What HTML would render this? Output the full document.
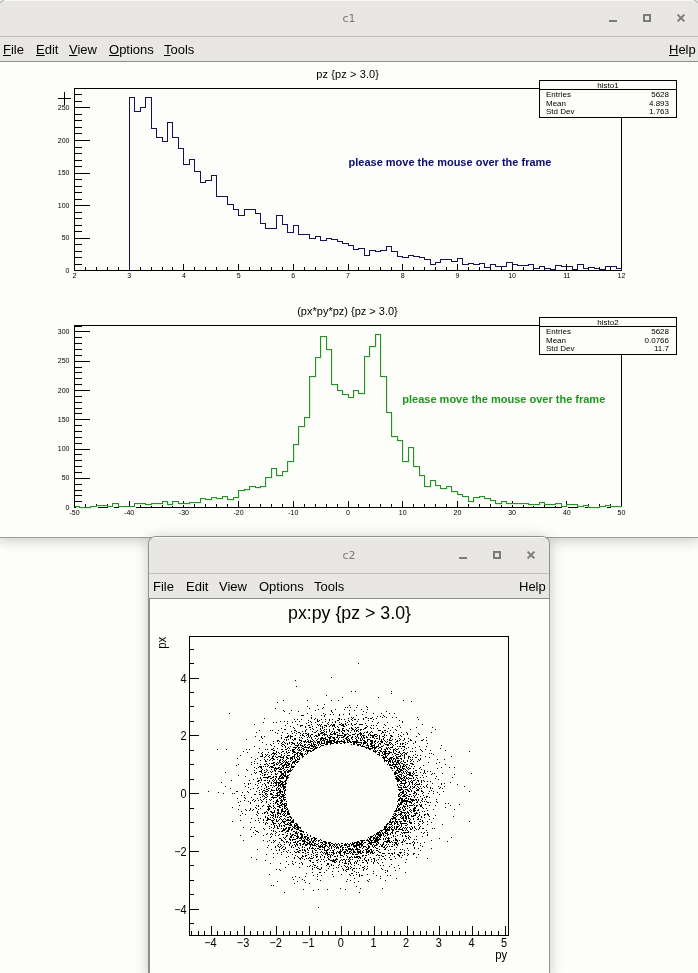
<!DOCTYPE html>
<html><head><meta charset="utf-8"><title>c1 c2</title>
<style>
html,body{margin:0;padding:0;}
body{width:698px;height:973px;overflow:hidden;position:relative;background:#fdfdf9;font-family:"Liberation Sans",sans-serif;}
.win{position:absolute;background:#fdfdf9;border:1px solid #8f8f8d;border-bottom:none;box-shadow:0 2px 14px rgba(0,0,0,0.22);overflow:hidden;}
.tb{position:absolute;left:0;right:0;top:0;height:36px;background:#e8e7e4;border-top:1px solid #f7f7f5;box-sizing:border-box;}
.tbl{position:absolute;left:0;right:0;top:36px;height:1px;background:#c0c0bd;}
.mb{position:absolute;left:0;right:0;top:37px;height:24px;background:#e8e7e4;}
.mbl{position:absolute;left:0;right:0;top:61px;height:1px;background:#8d8d8b;}
.cv{position:absolute;left:0;right:0;top:62px;bottom:0;border-left:1px solid #8a8a88;box-shadow:inset 1px 1px 0 #fff, inset -1px 0 0 #fff;}
.ttl{position:absolute;top:0;height:36px;line-height:37px;left:0;right:0;text-align:center;font-family:"DejaVu Sans",sans-serif;font-size:11px;color:#7a7a78;}
.mi{position:absolute;top:5px;font-size:13px;color:#000;line-height:15px;white-space:pre;}
.u{text-decoration:underline;}
.bmin{position:absolute;top:20px;width:8px;height:2px;background:#7b7b79;}
.bmax{position:absolute;top:14px;width:4px;height:4px;border:2px solid #7b7b79;}
.bcls{position:absolute;top:13px;}
#c1b{position:absolute;left:0;top:536px;width:698px;height:1px;background:#fff;}
#c1bb{position:absolute;left:0;top:537px;width:698px;height:1px;background:#9a9a98;}
#plots{position:absolute;left:0;top:0;will-change:transform;}
.win{will-change:transform;}
</style></head><body>
<div class="win" style="left:-2px;top:-1px;width:700px;height:538px;border-radius:9px 9px 0 0;">
  <div class="tb"></div>
  <div class="ttl">c1</div>
  <div class="tbl"></div>
  <div class="mb"><span class="mi" style="left:4px"><span class="u">F</span>ile</span><span class="mi" style="left:37px"><span class="u">E</span>dit</span><span class="mi" style="left:70px"><span class="u">V</span>iew</span><span class="mi" style="left:110px"><span class="u">O</span>ptions</span><span class="mi" style="left:165px"><span class="u">T</span>ools</span><span class="mi" style="left:670px"><span class="u">H</span>elp</span></div>
  <div class="mbl"></div>
  <div class="cv" style="border-left:none;box-shadow:none"></div>
  <div class="bmin" style="left:610px"></div>
  <div class="bmax" style="left:644px"></div>
  <svg class="bcls" style="left:677px" width="10" height="10" viewBox="0 0 10 10"><path d="M1.6 1.6L8.4 8.4M8.4 1.6L1.6 8.4" stroke="#7b7b79" stroke-width="2"/></svg>
</div>
<div id="c1b"></div><div id="c1bb"></div>
<div class="win" style="left:148px;top:536px;width:400px;height:439px;border-radius:8px 8px 0 0;">
  <div class="tb"></div>
  <div class="ttl">c2</div>
  <div class="tbl"></div>
  <div class="mb"><span class="mi" style="left:4px">File</span><span class="mi" style="left:37px">Edit</span><span class="mi" style="left:70px">View</span><span class="mi" style="left:110px">Options</span><span class="mi" style="left:165px">Tools</span><span class="mi" style="left:370px">Help</span></div>
  <div class="mbl"></div>
  <div class="cv" style=""></div>
  <div class="bmin" style="left:310px"></div>
  <div class="bmax" style="left:344px"></div>
  <svg class="bcls" style="left:377px" width="10" height="10" viewBox="0 0 10 10"><path d="M1.6 1.6L8.4 8.4M8.4 1.6L1.6 8.4" stroke="#7b7b79" stroke-width="2"/></svg>
</div>
<svg id="plots" width="698" height="973" viewBox="0 0 698 973" shape-rendering="crispEdges">
<rect x="74.5" y="88.5" width="547" height="182" fill="none" stroke="#000" stroke-width="1"/>
<path d="M74 270.5h16M74 264.5h8M74 257.5h8M74 251.5h8M74 244.5h8M74 238.5h16M74 231.5h8M74 225.5h8M74 218.5h8M74 212.5h8M74 205.5h16M74 199.5h8M74 192.5h8M74 186.5h8M74 179.5h8M74 173.5h16M74 166.5h8M74 160.5h8M74 153.5h8M74 147.5h8M74 140.5h16M74 133.5h8M74 127.5h8M74 120.5h8M74 114.5h8M74 107.5h16M74 101.5h8M74 94.5h8M74.5 270v-6M85.5 270v-3M96.5 270v-3M107.5 270v-3M118.5 270v-3M129.5 270v-6M140.5 270v-3M151.5 270v-3M162.5 270v-3M172.5 270v-3M183.5 270v-6M194.5 270v-3M205.5 270v-3M216.5 270v-3M227.5 270v-3M238.5 270v-6M249.5 270v-3M260.5 270v-3M271.5 270v-3M282.5 270v-3M293.5 270v-6M304.5 270v-3M315.5 270v-3M326.5 270v-3M337.5 270v-3M348.5 270v-6M358.5 270v-3M369.5 270v-3M380.5 270v-3M391.5 270v-3M402.5 270v-6M413.5 270v-3M424.5 270v-3M435.5 270v-3M446.5 270v-3M457.5 270v-6M468.5 270v-3M479.5 270v-3M490.5 270v-3M501.5 270v-3M512.5 270v-6M523.5 270v-3M533.5 270v-3M544.5 270v-3M555.5 270v-3M566.5 270v-6M577.5 270v-3M588.5 270v-3M599.5 270v-3M610.5 270v-3M621.5 270v-6" stroke="#000" stroke-width="1" fill="none"/>
<path d="M129.5 269.5V97.5H134.5V111.5H140.5V107.5H145.5V97.5H151.5V128.5H156.5V137.5H162.5V141.5H167.5V122.5H172.5V137.5H178.5V148.5H183.5V164.5H189.5V159.5H194.5V171.5H200.5V182.5H205.5V180.5H211.5V175.5H216.5V196.5H222.5V196.5H227.5V204.5H233.5V209.5H238.5V215.5H244.5V209.5H249.5V209.5H255.5V213.5H260.5V223.5H265.5V228.5H271.5V228.5H276.5V215.5H282.5V224.5H287.5V232.5H293.5V225.5H298.5V234.5H304.5V234.5H309.5V238.5H315.5V236.5H320.5V240.5H326.5V238.5H331.5V239.5H337.5V241.5H342.5V243.5H348.5V245.5H353.5V249.5H358.5V248.5H364.5V255.5H369.5V250.5H375.5V251.5H380.5V250.5H386.5V246.5H391.5V251.5H397.5V256.5H402.5V257.5H408.5V255.5H413.5V256.5H419.5V257.5H424.5V259.5H430.5V264.5H435.5V262.5H440.5V259.5H446.5V259.5H451.5V261.5H457.5V258.5H462.5V264.5H468.5V263.5H473.5V264.5H479.5V263.5H484.5V267.5H490.5V264.5H495.5V266.5H501.5V266.5H506.5V262.5H512.5V264.5H517.5V265.5H523.5V265.5H528.5V264.5H533.5V268.5H539.5V266.5H544.5V268.5H550.5V269.5H555.5V265.5H561.5V266.5H566.5V266.5H572.5V269.5H577.5V264.5H583.5V268.5H588.5V267.5H594.5V268.5H599.5V269.5H605.5V266.5H610.5V266.5H616.5V268.5H621.5V269.5" fill="none" stroke="#141257" stroke-width="1"/>
<g font-family="Liberation Sans" font-size="7" fill="#000"><text x="69.5" y="272.8" text-anchor="end">0</text><text x="69.5" y="240.2" text-anchor="end">50</text><text x="69.5" y="207.7" text-anchor="end">100</text><text x="69.5" y="175.1" text-anchor="end">150</text><text x="69.5" y="142.5" text-anchor="end">200</text><text x="69.5" y="109.9" text-anchor="end">250</text><text x="74.5" y="277.7" text-anchor="middle">2</text><text x="129.2" y="277.7" text-anchor="middle">3</text><text x="183.9" y="277.7" text-anchor="middle">4</text><text x="238.6" y="277.7" text-anchor="middle">5</text><text x="293.3" y="277.7" text-anchor="middle">6</text><text x="348.0" y="277.7" text-anchor="middle">7</text><text x="402.7" y="277.7" text-anchor="middle">8</text><text x="457.4" y="277.7" text-anchor="middle">9</text><text x="512.1" y="277.7" text-anchor="middle">10</text><text x="566.8" y="277.7" text-anchor="middle">11</text><text x="621.5" y="277.7" text-anchor="middle">12</text></g>
<rect x="74.5" y="325.5" width="547" height="182" fill="none" stroke="#000" stroke-width="1"/>
<path d="M74 507.5h16M74 501.5h8M74 495.5h8M74 490.5h8M74 484.5h8M74 478.5h16M74 472.5h8M74 466.5h8M74 460.5h8M74 454.5h8M74 449.5h16M74 443.5h8M74 437.5h8M74 431.5h8M74 425.5h8M74 419.5h16M74 413.5h8M74 408.5h8M74 402.5h8M74 396.5h8M74 390.5h16M74 384.5h8M74 378.5h8M74 372.5h8M74 367.5h8M74 361.5h16M74 355.5h8M74 349.5h8M74 343.5h8M74 337.5h8M74 331.5h16M74 326.5h8M74.5 507v-6M85.5 507v-3M96.5 507v-3M107.5 507v-3M118.5 507v-3M129.5 507v-6M140.5 507v-3M151.5 507v-3M162.5 507v-3M172.5 507v-3M183.5 507v-6M194.5 507v-3M205.5 507v-3M216.5 507v-3M227.5 507v-3M238.5 507v-6M249.5 507v-3M260.5 507v-3M271.5 507v-3M282.5 507v-3M293.5 507v-6M304.5 507v-3M315.5 507v-3M326.5 507v-3M337.5 507v-3M348.5 507v-6M358.5 507v-3M369.5 507v-3M380.5 507v-3M391.5 507v-3M402.5 507v-6M413.5 507v-3M424.5 507v-3M435.5 507v-3M446.5 507v-3M457.5 507v-6M468.5 507v-3M479.5 507v-3M490.5 507v-3M501.5 507v-3M512.5 507v-6M523.5 507v-3M533.5 507v-3M544.5 507v-3M555.5 507v-3M566.5 507v-6M577.5 507v-3M588.5 507v-3M599.5 507v-3M610.5 507v-3M621.5 507v-6" stroke="#000" stroke-width="1" fill="none"/>
<path transform="translate(1 1)" d="M74.5 506.5V506.5H79.5V507.5H85.5V507.5H90.5V506.5H96.5V505.5H101.5V505.5H107.5V506.5H112.5V503.5H118.5V506.5H123.5V506.5H129.5V506.5H134.5V503.5H140.5V503.5H145.5V504.5H151.5V503.5H156.5V503.5H162.5V501.5H167.5V504.5H172.5V501.5H178.5V503.5H183.5V503.5H189.5V502.5H194.5V502.5H200.5V498.5H205.5V499.5H211.5V497.5H216.5V498.5H222.5V496.5H227.5V499.5H233.5V497.5H238.5V490.5H244.5V489.5H249.5V486.5H255.5V487.5H260.5V486.5H265.5V477.5H271.5V468.5H276.5V475.5H282.5V471.5H287.5V461.5H293.5V444.5H298.5V426.5H304.5V417.5H309.5V376.5H315.5V357.5H320.5V336.5H326.5V349.5H331.5V384.5H337.5V390.5H342.5V394.5H348.5V397.5H353.5V390.5H358.5V393.5H364.5V356.5H369.5V346.5H375.5V334.5H380.5V376.5H386.5V412.5H391.5V436.5H397.5V440.5H402.5V461.5H408.5V447.5H413.5V466.5H419.5V475.5H424.5V486.5H430.5V480.5H435.5V485.5H440.5V488.5H446.5V486.5H451.5V491.5H457.5V494.5H462.5V496.5H468.5V501.5H473.5V497.5H479.5V496.5H484.5V498.5H490.5V500.5H495.5V503.5H501.5V501.5H506.5V503.5H512.5V503.5H517.5V503.5H523.5V503.5H528.5V504.5H533.5V504.5H539.5V502.5H544.5V504.5H550.5V504.5H555.5V503.5H561.5V506.5H566.5V504.5H572.5V504.5H577.5V506.5H583.5V505.5H588.5V507.5H594.5V507.5H599.5V506.5H605.5V505.5H610.5V506.5H616.5V506.5H621.5V506.5" fill="none" stroke="#d6f7d6" stroke-width="1"/>
<path d="M74.5 506.5V506.5H79.5V507.5H85.5V507.5H90.5V506.5H96.5V505.5H101.5V505.5H107.5V506.5H112.5V503.5H118.5V506.5H123.5V506.5H129.5V506.5H134.5V503.5H140.5V503.5H145.5V504.5H151.5V503.5H156.5V503.5H162.5V501.5H167.5V504.5H172.5V501.5H178.5V503.5H183.5V503.5H189.5V502.5H194.5V502.5H200.5V498.5H205.5V499.5H211.5V497.5H216.5V498.5H222.5V496.5H227.5V499.5H233.5V497.5H238.5V490.5H244.5V489.5H249.5V486.5H255.5V487.5H260.5V486.5H265.5V477.5H271.5V468.5H276.5V475.5H282.5V471.5H287.5V461.5H293.5V444.5H298.5V426.5H304.5V417.5H309.5V376.5H315.5V357.5H320.5V336.5H326.5V349.5H331.5V384.5H337.5V390.5H342.5V394.5H348.5V397.5H353.5V390.5H358.5V393.5H364.5V356.5H369.5V346.5H375.5V334.5H380.5V376.5H386.5V412.5H391.5V436.5H397.5V440.5H402.5V461.5H408.5V447.5H413.5V466.5H419.5V475.5H424.5V486.5H430.5V480.5H435.5V485.5H440.5V488.5H446.5V486.5H451.5V491.5H457.5V494.5H462.5V496.5H468.5V501.5H473.5V497.5H479.5V496.5H484.5V498.5H490.5V500.5H495.5V503.5H501.5V501.5H506.5V503.5H512.5V503.5H517.5V503.5H523.5V503.5H528.5V504.5H533.5V504.5H539.5V502.5H544.5V504.5H550.5V504.5H555.5V503.5H561.5V506.5H566.5V504.5H572.5V504.5H577.5V506.5H583.5V505.5H588.5V507.5H594.5V507.5H599.5V506.5H605.5V505.5H610.5V506.5H616.5V506.5H621.5V506.5" fill="none" stroke="#2a8c2a" stroke-width="1"/>
<g font-family="Liberation Sans" font-size="7" fill="#000"><text x="69.5" y="509.7" text-anchor="end">0</text><text x="69.5" y="480.4" text-anchor="end">50</text><text x="69.5" y="451.1" text-anchor="end">100</text><text x="69.5" y="421.8" text-anchor="end">150</text><text x="69.5" y="392.6" text-anchor="end">200</text><text x="69.5" y="363.3" text-anchor="end">250</text><text x="69.5" y="334.0" text-anchor="end">300</text><text x="74.5" y="514.7" text-anchor="middle">-50</text><text x="129.2" y="514.7" text-anchor="middle">-40</text><text x="183.9" y="514.7" text-anchor="middle">-30</text><text x="238.6" y="514.7" text-anchor="middle">-20</text><text x="293.3" y="514.7" text-anchor="middle">-10</text><text x="348.0" y="514.7" text-anchor="middle">0</text><text x="402.7" y="514.7" text-anchor="middle">10</text><text x="457.4" y="514.7" text-anchor="middle">20</text><text x="512.1" y="514.7" text-anchor="middle">30</text><text x="566.8" y="514.7" text-anchor="middle">40</text><text x="621.5" y="514.7" text-anchor="middle">50</text></g>
<text x="347.7" y="78" text-anchor="middle" font-family="Liberation Sans" font-size="11" letter-spacing="0.1" fill="#000">pz {pz &gt; 3.0}</text>
<text x="347.5" y="315.3" text-anchor="middle" font-family="Liberation Sans" font-size="11" fill="#000">(px*py*pz) {pz &gt; 3.0}</text>
<text x="348.5" y="166" font-family="Liberation Sans" font-weight="bold" font-size="11" fill="#0c0c70">please move the mouse over the frame</text>
<text x="402.3" y="402.8" font-family="Liberation Sans" font-weight="bold" font-size="11" fill="#1f981f">please move the mouse over the frame</text>
<rect x="539.5" y="80.5" width="137" height="37" fill="#fdfdf9" stroke="#000" stroke-width="1"/>
<path d="M540 89.5H676" stroke="#000" stroke-width="1"/>
<g font-family="Liberation Sans" font-size="8" fill="#000"><text x="608" y="87.8" text-anchor="middle">histo1</text><text x="546" y="96.9">Entries</text><text x="669" y="96.9" text-anchor="end">5628</text><text x="546" y="105.7">Mean</text><text x="669" y="105.7" text-anchor="end">4.893</text><text x="546" y="114.4">Std Dev</text><text x="669" y="114.4" text-anchor="end">1.763</text></g>
<rect x="539.5" y="317.5" width="137" height="37" fill="#fdfdf9" stroke="#000" stroke-width="1"/>
<path d="M540 326.5H676" stroke="#000" stroke-width="1"/>
<g font-family="Liberation Sans" font-size="8" fill="#000"><text x="608" y="324.8" text-anchor="middle">histo2</text><text x="546" y="333.9">Entries</text><text x="669" y="333.9" text-anchor="end">5628</text><text x="546" y="342.6">Mean</text><text x="669" y="342.6" text-anchor="end">0.0766</text><text x="546" y="351.4">Std Dev</text><text x="669" y="351.4" text-anchor="end">11.7</text></g>
<path d="M58 98.5h13M64.5 92v13" stroke="#000" stroke-width="1"/>
<text x="288" y="618.7" textLength="123" lengthAdjust="spacingAndGlyphs" font-family="Liberation Sans" font-size="19" fill="#000">px:py {pz &gt; 3.0}</text>
<path d="M383 834.5h1M278 783.5h1M373 725.5h1M288 767.5h1M427 743.5h1M313 840.5h1M368 845.5h1M276 800.5h1M281 801.5h1M403 740.5h1M277 826.5h1M319 872.5h1M297 834.5h1M399 787.5h1M362 856.5h1M383 757.5h1M274 754.5h1M412 827.5h1M318 859.5h1M326 734.5h1M399 805.5h1M422 775.5h1M350 859.5h1M308 722.5h1M280 793.5h1M291 757.5h1M336 853.5h1M364 735.5h1M299 840.5h1M294 883.5h1M329 842.5h1M288 772.5h1M394 844.5h1M406 775.5h1M317 739.5h1M314 749.5h1M315 738.5h1M288 814.5h1M414 793.5h1M292 828.5h1M331 743.5h1M351 730.5h1M374 742.5h1M341 859.5h1M420 758.5h1M372 845.5h1M309 750.5h1M307 752.5h1M401 758.5h1M303 749.5h1M288 761.5h1M418 790.5h1M308 748.5h1M302 731.5h1M293 847.5h1M356 857.5h1M387 755.5h1M411 701.5h1M280 778.5h1M284 803.5h1M349 857.5h1M285 773.5h1M298 832.5h1M284 784.5h1M404 806.5h1M300 725.5h1M283 700.5h1M393 830.5h1M398 800.5h1M387 758.5h1M288 777.5h1M399 804.5h1M307 745.5h1M262 756.5h1M396 766.5h1M303 832.5h1M295 823.5h1M348 742.5h1M386 847.5h1M269 805.5h1M248 784.5h1M310 858.5h1M367 863.5h1M388 761.5h1M326 743.5h1M282 781.5h1M343 869.5h1M339 714.5h1M397 823.5h1M305 740.5h1M403 840.5h1M297 743.5h1M278 782.5h1M258 805.5h1M277 768.5h1M357 736.5h1M402 796.5h1M366 849.5h1M355 729.5h1M396 779.5h1M442 824.5h1M363 846.5h1M272 815.5h1M418 733.5h1M313 855.5h1M414 827.5h1M339 852.5h1M398 865.5h1M328 868.5h1M301 834.5h1M403 796.5h1M344 736.5h1M316 840.5h1M393 829.5h1M297 851.5h1M383 856.5h1M251 857.5h1M347 866.5h1M367 868.5h1M254 772.5h1M334 847.5h1M382 832.5h1M288 810.5h1M266 763.5h1M391 818.5h1M454 767.5h1M339 718.5h1M338 730.5h1M296 843.5h1M400 827.5h1M348 720.5h1M268 845.5h1M401 789.5h1M384 759.5h1M444 783.5h1M402 842.5h1M373 837.5h1M400 807.5h1M349 860.5h1M287 777.5h1M316 854.5h1M327 850.5h1M411 791.5h1M437 768.5h1M368 718.5h1M320 738.5h1M410 798.5h1M393 836.5h1M338 720.5h1M320 744.5h1M438 786.5h1M292 822.5h1M253 788.5h1M398 763.5h1M416 757.5h1M441 784.5h1M323 740.5h1M260 818.5h1M396 776.5h1M413 777.5h1M331 860.5h1M292 742.5h1M399 840.5h1M349 728.5h1M249 780.5h1M282 786.5h1M274 825.5h1M436 799.5h1M399 790.5h1M296 760.5h1M403 830.5h1M391 841.5h1M405 783.5h1M264 772.5h1M386 842.5h1M410 809.5h1M408 758.5h1M281 810.5h1M256 831.5h1M310 841.5h1M373 863.5h1M396 758.5h1M363 737.5h1M345 860.5h1M398 752.5h1M401 769.5h1M310 846.5h1M306 733.5h1M400 735.5h1M275 767.5h1M374 861.5h1M326 842.5h1M282 751.5h1M390 855.5h1M306 742.5h1M352 854.5h1M405 820.5h1M274 811.5h1M319 724.5h1M291 766.5h1M282 774.5h1M341 741.5h1M412 782.5h1M392 833.5h1M284 804.5h1M305 836.5h1M346 845.5h1M375 838.5h1M324 844.5h1M306 832.5h1M406 789.5h1M281 816.5h1M266 834.5h1M290 825.5h1M377 742.5h1M296 686.5h1M267 812.5h1M403 818.5h1M308 747.5h1M270 759.5h1M397 781.5h1M405 823.5h1M282 792.5h1M343 859.5h1M280 816.5h1M379 831.5h1M262 813.5h1M260 756.5h1M395 748.5h1M284 822.5h1M312 851.5h1M413 764.5h1M338 843.5h1M289 823.5h1M396 808.5h1M257 781.5h1M402 815.5h1M355 846.5h1M306 855.5h1M376 837.5h1M327 852.5h1M342 845.5h1M316 747.5h1M405 742.5h1M267 813.5h1M294 762.5h1M398 794.5h1M361 844.5h1M400 797.5h1M268 765.5h1M286 740.5h1M284 829.5h1M407 801.5h1M375 751.5h1M407 805.5h1M417 810.5h1M338 735.5h1M284 797.5h1M404 776.5h1M389 830.5h1M299 739.5h1M279 762.5h1M279 785.5h1M379 836.5h1M365 846.5h1M421 781.5h1M412 788.5h1M321 867.5h1M332 725.5h1M394 753.5h1M280 759.5h1M255 834.5h1M324 716.5h1M402 829.5h1M344 742.5h1M404 795.5h1M345 721.5h1M260 782.5h1M358 856.5h1M312 750.5h1M370 749.5h1M406 803.5h1M350 732.5h1M416 802.5h1M337 851.5h1M291 847.5h1M377 834.5h1M283 765.5h1M399 771.5h1M278 813.5h1M332 860.5h1M296 827.5h1M258 783.5h1M405 789.5h1M404 749.5h1M403 764.5h1M415 795.5h1M390 742.5h1M345 742.5h1M360 738.5h1M321 844.5h1M311 738.5h1M409 822.5h1M422 798.5h1M379 855.5h1M294 766.5h1M290 822.5h1M400 829.5h1M319 742.5h1M417 775.5h1M305 882.5h1M426 796.5h1M362 862.5h1M277 759.5h1M318 733.5h1M271 778.5h1M331 848.5h1M317 866.5h1M318 848.5h1M383 739.5h1M293 827.5h1M422 823.5h1M386 747.5h1M287 765.5h1M404 752.5h1M318 734.5h1M402 841.5h1M352 843.5h1M398 766.5h1M289 825.5h1M380 876.5h1M313 744.5h1M385 838.5h1M301 751.5h1M409 791.5h1M300 834.5h1M269 808.5h1M285 743.5h1M288 827.5h1M315 838.5h1M273 820.5h1M452 777.5h1M398 812.5h1M271 807.5h1M292 834.5h1M349 740.5h1M308 740.5h1M333 854.5h1M274 764.5h1M328 843.5h1M386 751.5h1M293 766.5h1M299 737.5h1M282 791.5h1M396 828.5h1M402 791.5h1M379 750.5h1M416 805.5h1M370 734.5h1M350 741.5h1M259 730.5h1M301 747.5h1M405 815.5h1M400 811.5h1M327 855.5h1M248 787.5h1M341 851.5h1M276 764.5h1M362 746.5h1M396 810.5h1M401 823.5h1M283 841.5h1M285 813.5h1M266 820.5h1M281 755.5h1M275 785.5h1M293 761.5h1M270 776.5h1M318 846.5h1M267 754.5h1M400 781.5h1M430 750.5h1M400 798.5h1M324 861.5h1M416 794.5h1M282 746.5h1M375 845.5h1M396 843.5h1M403 790.5h1M336 743.5h1M307 747.5h1M396 826.5h1M363 718.5h1M283 762.5h1M266 822.5h1M397 779.5h1M287 748.5h1M296 823.5h1M323 732.5h1M370 837.5h1M375 740.5h1M312 850.5h1M378 835.5h1M413 774.5h1M419 746.5h1M287 835.5h1M333 714.5h1M407 808.5h1M270 793.5h1M288 735.5h1M388 838.5h1M406 817.5h1M400 785.5h1M267 847.5h1M291 764.5h1M423 786.5h1M401 832.5h1M309 747.5h1M268 782.5h1M348 846.5h1M380 844.5h1M372 737.5h1M399 752.5h1M380 750.5h1M338 848.5h1M443 791.5h1M351 738.5h1M321 724.5h1M291 767.5h1M397 807.5h1M427 784.5h1M258 752.5h1M332 874.5h1M273 755.5h1M272 757.5h1M314 839.5h1M304 749.5h1M423 833.5h1M343 733.5h1M388 841.5h1M299 838.5h1M230 788.5h1M376 855.5h1M283 795.5h1M334 741.5h1M380 744.5h1M287 723.5h1M288 820.5h1M265 797.5h1M356 872.5h1M330 845.5h1M279 741.5h1M318 868.5h1M305 844.5h1M301 745.5h1M381 739.5h1M297 753.5h1M395 810.5h1M303 844.5h1M354 846.5h1M283 830.5h1M407 830.5h1M344 852.5h1M417 805.5h1M324 846.5h1M284 807.5h1M368 852.5h1M245 814.5h1M421 804.5h1M272 780.5h1M276 783.5h1M338 729.5h1M413 854.5h1M372 840.5h1M291 829.5h1M276 788.5h1M414 797.5h1M362 848.5h1M421 769.5h1M327 846.5h1M354 847.5h1M280 775.5h1M406 748.5h1M248 792.5h1M405 872.5h1M425 756.5h1M410 822.5h1M381 859.5h1M391 828.5h1M269 874.5h1M270 863.5h1M366 725.5h1M407 795.5h1M419 804.5h1M379 752.5h1M348 734.5h1M370 727.5h1M319 720.5h1M419 734.5h1M334 724.5h1M450 782.5h1M373 844.5h1M256 805.5h1M300 753.5h1M400 802.5h1M322 843.5h1M284 761.5h1M275 816.5h1M332 845.5h1M335 843.5h1M278 778.5h1M407 774.5h1M274 765.5h1M270 791.5h1M410 775.5h1M432 783.5h1M392 760.5h1M266 769.5h1M270 811.5h1M329 846.5h1M299 848.5h1M307 842.5h1M401 770.5h1M273 797.5h1M387 830.5h1M289 814.5h1M398 824.5h1M436 801.5h1M338 700.5h1M438 779.5h1M392 762.5h1M309 839.5h1M431 848.5h1M338 738.5h1M383 738.5h1M257 849.5h1M295 680.5h1M288 817.5h1M340 860.5h1M424 817.5h1M292 758.5h1M396 821.5h1M295 832.5h1M277 828.5h1M385 855.5h1M354 842.5h1M330 844.5h1M424 771.5h1M283 794.5h1M370 852.5h1M306 842.5h1M367 852.5h1M270 794.5h1M392 829.5h1M384 735.5h1M281 783.5h1M353 741.5h1M407 827.5h1M387 875.5h1M297 746.5h1M367 741.5h1M265 791.5h1M351 737.5h1M310 750.5h1M320 857.5h1M396 757.5h1M267 796.5h1M283 770.5h1M284 788.5h1M290 819.5h1M408 835.5h1M422 811.5h1M234 793.5h1M306 749.5h1M279 767.5h1M435 729.5h1M384 846.5h1M366 840.5h1M329 854.5h1M290 833.5h1M282 783.5h1M344 735.5h1M342 849.5h1M347 847.5h1M311 718.5h1M353 854.5h1M351 728.5h1M415 783.5h1M387 744.5h1M385 827.5h1M302 847.5h1M311 717.5h1M322 708.5h1M300 754.5h1M329 739.5h1M335 733.5h1M356 886.5h1M393 762.5h1M410 828.5h1M395 818.5h1M282 777.5h1M294 763.5h1M402 802.5h1M326 731.5h1M270 834.5h1M395 813.5h1M384 841.5h1M404 754.5h1M347 722.5h1M273 842.5h1M317 860.5h1M295 738.5h1M288 763.5h1M283 766.5h1M281 754.5h1M292 839.5h1M378 746.5h1M349 845.5h1M267 819.5h1M408 790.5h1M442 788.5h1M353 743.5h1M307 852.5h1M307 848.5h1M283 786.5h1M353 850.5h1M302 734.5h1M403 787.5h1M265 812.5h1M404 739.5h1M409 827.5h1M402 801.5h1M363 850.5h1M281 804.5h1M353 852.5h1M300 745.5h1M290 842.5h1M362 845.5h1M341 731.5h1M352 729.5h1M315 718.5h1M282 834.5h1M354 851.5h1M279 838.5h1M278 789.5h1M408 741.5h1M367 726.5h1M299 755.5h1M396 763.5h1M410 843.5h1M265 760.5h1M295 855.5h1M341 846.5h1M361 841.5h1M303 715.5h1M325 714.5h1M374 852.5h1M362 745.5h1M342 737.5h1M321 738.5h1M393 766.5h1M299 749.5h1M370 849.5h1M266 811.5h1M237 798.5h1M409 773.5h1M282 776.5h1M313 743.5h1M364 859.5h1M291 830.5h1M268 786.5h1M347 853.5h1M291 744.5h1M238 809.5h1M411 782.5h1M281 781.5h1M363 743.5h1M302 856.5h1M425 749.5h1M419 788.5h1M415 792.5h1M323 739.5h1M269 819.5h1M416 775.5h1M415 742.5h1M336 858.5h1M340 850.5h1M292 845.5h1M349 849.5h1M385 828.5h1M279 794.5h1M304 859.5h1M286 828.5h1M378 730.5h1M359 851.5h1M399 810.5h1M300 752.5h1M334 860.5h1M253 832.5h1M280 756.5h1M363 847.5h1M326 739.5h1M408 756.5h1M385 732.5h1M350 742.5h1M299 843.5h1M264 718.5h1M375 748.5h1M336 848.5h1M304 745.5h1M423 808.5h1M280 764.5h1M337 856.5h1M373 719.5h1M341 845.5h1M417 790.5h1M403 771.5h1M257 815.5h1M392 819.5h1M307 834.5h1M277 813.5h1M339 731.5h1M295 748.5h1M308 858.5h1M384 757.5h1M292 767.5h1M276 780.5h1M385 826.5h1M361 734.5h1M399 821.5h1M240 801.5h1M308 850.5h1M265 772.5h1M400 789.5h1M406 832.5h1M424 772.5h1M389 822.5h1M367 743.5h1M309 742.5h1M300 843.5h1M297 856.5h1M355 852.5h1M293 756.5h1M349 851.5h1M281 743.5h1M285 729.5h1M376 843.5h1M307 866.5h1M392 744.5h1M292 757.5h1M332 726.5h1M385 752.5h1M404 764.5h1M376 839.5h1M358 844.5h1M280 768.5h1M365 849.5h1M393 732.5h1M403 839.5h1M262 755.5h1M358 842.5h1M373 839.5h1M262 792.5h1M299 850.5h1M256 768.5h1M348 868.5h1M406 764.5h1M270 817.5h1M310 865.5h1M356 842.5h1M295 826.5h1M405 765.5h1M281 811.5h1M401 774.5h1M357 848.5h1M398 799.5h1M298 711.5h1M275 823.5h1M370 836.5h1M371 743.5h1M359 744.5h1M317 742.5h1M371 840.5h1M345 845.5h1M442 773.5h1M420 802.5h1M403 791.5h1M285 799.5h1M402 855.5h1M323 841.5h1M279 760.5h1M390 730.5h1M305 838.5h1M286 756.5h1M291 846.5h1M331 847.5h1M416 772.5h1M297 742.5h1M392 768.5h1M377 844.5h1M365 742.5h1M390 758.5h1M275 756.5h1M416 799.5h1M286 780.5h1M293 740.5h1M305 851.5h1M338 741.5h1M391 693.5h1M365 842.5h1M387 846.5h1M280 798.5h1M278 801.5h1M404 783.5h1M307 739.5h1M293 747.5h1M303 840.5h1M409 788.5h1M294 743.5h1M295 842.5h1M368 841.5h1M310 748.5h1M262 796.5h1M406 797.5h1M275 783.5h1M236 765.5h1M282 742.5h1M282 804.5h1M296 757.5h1M285 819.5h1M401 804.5h1M325 737.5h1M397 831.5h1M382 717.5h1M278 730.5h1M384 743.5h1M459 804.5h1M306 754.5h1M339 845.5h1M276 757.5h1M341 843.5h1M282 759.5h1M261 756.5h1M322 849.5h1M285 774.5h1M400 755.5h1M284 787.5h1M375 734.5h1M304 836.5h1M394 813.5h1M266 795.5h1M261 772.5h1M358 731.5h1M281 791.5h1M359 849.5h1M356 874.5h1M359 742.5h1M320 731.5h1M250 802.5h1M267 778.5h1M418 780.5h1M292 840.5h1M376 833.5h1M261 767.5h1M274 768.5h1M419 814.5h1M290 836.5h1M308 720.5h1M302 841.5h1M360 840.5h1M417 755.5h1M232 821.5h1M366 847.5h1M396 878.5h1M281 778.5h1M418 854.5h1M358 742.5h1M264 736.5h1M405 769.5h1M316 857.5h1M410 774.5h1M321 868.5h1M285 760.5h1M270 819.5h1M278 740.5h1M321 846.5h1M375 741.5h1M376 845.5h1M404 813.5h1M376 850.5h1M284 792.5h1M292 766.5h1M405 806.5h1M365 747.5h1M340 724.5h1M284 793.5h1M261 736.5h1M396 749.5h1M332 719.5h1M327 889.5h1M279 831.5h1M367 737.5h1M349 714.5h1M285 811.5h1M287 771.5h1M332 871.5h1M312 748.5h1M286 857.5h1M360 734.5h1M344 863.5h1M337 740.5h1M373 750.5h1M279 792.5h1M400 849.5h1M378 754.5h1M265 780.5h1M283 829.5h1M395 833.5h1M397 764.5h1M405 808.5h1M310 836.5h1M328 724.5h1M429 797.5h1M433 791.5h1M299 877.5h1M383 715.5h1M400 762.5h1M400 815.5h1M404 766.5h1M393 814.5h1M258 800.5h1M359 876.5h1M354 856.5h1M377 840.5h1M415 828.5h1M406 793.5h1M339 735.5h1M295 764.5h1M418 800.5h1M332 731.5h1M355 842.5h1M332 740.5h1M363 729.5h1M365 717.5h1M263 805.5h1M368 846.5h1M264 813.5h1M257 758.5h1M357 721.5h1M309 844.5h1M393 816.5h1M398 760.5h1M340 854.5h1M292 763.5h1M395 750.5h1M371 746.5h1M405 776.5h1M331 736.5h1M300 740.5h1M240 835.5h1M405 832.5h1M272 822.5h1M409 810.5h1M356 868.5h1M309 841.5h1M365 741.5h1M400 821.5h1M364 858.5h1M372 735.5h1M413 815.5h1M305 753.5h1M310 735.5h1M308 843.5h1M305 850.5h1M317 862.5h1M284 800.5h1M283 775.5h1M371 852.5h1M290 824.5h1M283 774.5h1M361 709.5h1M274 782.5h1M295 747.5h1M343 856.5h1M339 741.5h1M321 743.5h1M394 849.5h1M259 766.5h1M284 772.5h1M280 818.5h1M412 764.5h1M399 856.5h1M268 777.5h1M277 764.5h1M264 764.5h1M407 855.5h1M418 810.5h1M395 842.5h1M279 842.5h1M293 822.5h1M406 798.5h1M422 807.5h1M328 858.5h1M410 761.5h1M336 844.5h1M396 842.5h1M301 857.5h1M282 773.5h1M375 836.5h1M301 831.5h1M339 719.5h1M329 852.5h1M333 859.5h1M389 759.5h1M321 719.5h1M340 849.5h1M360 739.5h1M302 755.5h1M263 828.5h1M406 754.5h1M400 758.5h1M282 766.5h1M392 747.5h1M317 721.5h1M271 830.5h1M412 784.5h1M344 741.5h1M398 779.5h1M321 742.5h1M278 768.5h1M408 798.5h1M417 717.5h1M397 749.5h1M287 763.5h1M406 859.5h1M284 825.5h1M385 751.5h1M401 818.5h1M273 776.5h1M401 761.5h1M381 835.5h1M250 822.5h1M274 770.5h1M282 765.5h1M271 774.5h1M296 753.5h1M314 837.5h1M406 838.5h1M395 761.5h1M414 803.5h1M342 862.5h1M416 736.5h1M338 739.5h1M273 803.5h1M283 821.5h1M361 736.5h1M398 854.5h1M363 862.5h1M404 812.5h1M312 847.5h1M386 735.5h1M313 845.5h1M392 830.5h1M354 882.5h1M388 747.5h1M280 786.5h1M285 780.5h1M297 833.5h1M298 827.5h1M269 788.5h1M294 738.5h1M296 852.5h1M359 857.5h1M275 768.5h1M390 760.5h1M347 737.5h1M343 870.5h1M420 772.5h1M432 727.5h1M297 758.5h1M264 757.5h1M307 753.5h1M289 748.5h1M352 736.5h1M403 820.5h1M424 797.5h1M263 840.5h1M258 813.5h1M268 752.5h1M276 776.5h1M416 788.5h1M389 821.5h1M384 760.5h1M404 803.5h1M469 821.5h1M288 829.5h1M320 861.5h1M391 735.5h1M411 800.5h1M394 761.5h1M271 824.5h1M342 855.5h1M398 803.5h1M402 823.5h1M299 747.5h1M358 845.5h1M346 849.5h1M281 735.5h1M283 744.5h1M414 773.5h1M285 797.5h1M304 736.5h1M288 750.5h1M280 782.5h1M297 828.5h1M311 751.5h1M379 753.5h1M348 869.5h1M265 756.5h1M251 818.5h1M369 847.5h1M401 824.5h1M401 801.5h1M380 836.5h1M403 812.5h1M246 749.5h1M276 769.5h1M398 775.5h1M276 820.5h1M331 700.5h1M407 789.5h1M372 736.5h1M354 730.5h1M329 742.5h1M383 758.5h1M337 720.5h1M346 844.5h1M421 788.5h1M285 816.5h1M383 838.5h1M371 718.5h1M343 724.5h1M398 762.5h1M262 754.5h1M385 741.5h1M273 812.5h1M316 856.5h1M379 846.5h1M394 767.5h1M415 779.5h1M439 838.5h1M316 727.5h1M339 853.5h1M380 839.5h1M408 799.5h1M290 834.5h1M260 794.5h1M368 720.5h1M297 881.5h1M277 787.5h1M337 846.5h1M324 715.5h1M399 764.5h1M383 847.5h1M390 747.5h1M323 730.5h1M390 749.5h1M375 839.5h1M341 866.5h1M271 812.5h1M398 787.5h1M423 773.5h1M333 844.5h1M391 691.5h1M407 832.5h1M396 819.5h1M374 748.5h1M374 840.5h1M422 793.5h1M375 747.5h1M401 759.5h1M403 734.5h1M363 719.5h1M437 802.5h1M395 838.5h1M384 749.5h1M420 850.5h1M401 779.5h1M272 796.5h1M313 875.5h1M382 746.5h1M409 821.5h1M258 787.5h1M277 793.5h1M333 860.5h1M291 817.5h1M382 888.5h1M387 823.5h1M422 821.5h1M296 836.5h1M407 768.5h1M410 786.5h1M411 822.5h1M348 849.5h1M287 808.5h1M386 841.5h1M343 726.5h1M358 729.5h1M360 732.5h1M301 836.5h1M350 853.5h1M304 839.5h1M358 881.5h1M352 859.5h1M302 846.5h1M416 829.5h1M308 734.5h1M429 753.5h1M322 855.5h1M301 838.5h1M348 867.5h1M331 741.5h1M384 829.5h1M273 822.5h1M381 741.5h1M357 734.5h1M395 739.5h1M280 791.5h1M341 874.5h1M415 747.5h1M351 719.5h1M309 744.5h1M399 772.5h1M326 732.5h1M408 767.5h1M322 740.5h1M355 849.5h1M413 804.5h1M400 822.5h1M402 793.5h1M313 740.5h1M416 839.5h1M305 746.5h1M356 854.5h1M441 767.5h1M394 772.5h1M361 843.5h1M287 767.5h1M278 811.5h1M310 741.5h1M344 844.5h1M273 814.5h1M272 753.5h1M401 852.5h1M370 732.5h1M304 747.5h1M285 808.5h1M424 815.5h1M324 841.5h1M310 729.5h1M387 739.5h1M334 853.5h1M412 842.5h1M318 721.5h1M354 852.5h1M294 839.5h1M359 852.5h1M397 824.5h1M296 832.5h1M299 743.5h1M402 830.5h1M266 797.5h1M361 740.5h1M289 844.5h1M399 829.5h1M381 713.5h1M397 746.5h1M310 860.5h1M286 757.5h1M426 746.5h1M393 763.5h1M397 754.5h1M382 757.5h1M374 858.5h1M402 808.5h1M399 774.5h1M355 857.5h1M275 773.5h1M385 832.5h1M414 843.5h1M391 826.5h1M379 832.5h1M414 842.5h1M351 723.5h1M351 856.5h1M400 795.5h1M292 762.5h1M414 815.5h1M312 862.5h1M273 818.5h1M281 773.5h1M370 740.5h1M336 732.5h1M401 811.5h1M287 831.5h1M282 800.5h1M279 791.5h1M402 812.5h1M398 736.5h1M339 851.5h1M423 777.5h1M381 749.5h1M414 791.5h1M278 792.5h1M364 866.5h1M365 855.5h1M399 828.5h1M408 815.5h1M277 792.5h1M372 842.5h1M334 844.5h1M403 793.5h1M279 797.5h1M356 742.5h1M326 742.5h1M428 802.5h1M285 839.5h1M407 764.5h1M320 846.5h1M405 804.5h1M306 839.5h1M240 820.5h1M372 846.5h1M387 840.5h1M396 754.5h1M271 772.5h1M305 837.5h1M408 801.5h1M299 852.5h1M384 730.5h1M411 799.5h1M271 827.5h1M395 819.5h1M324 872.5h1M357 741.5h1M326 845.5h1M285 828.5h1M415 770.5h1M385 849.5h1M410 781.5h1M291 837.5h1M317 844.5h1M263 822.5h1M347 846.5h1M270 803.5h1M267 841.5h1M339 733.5h1M346 871.5h1M292 749.5h1M345 734.5h1M325 841.5h1M285 790.5h1M409 765.5h1M313 837.5h1M386 837.5h1M395 858.5h1M420 845.5h1M375 835.5h1M340 846.5h1M352 728.5h1M256 772.5h1M421 806.5h1M385 829.5h1M358 849.5h1M361 842.5h1M255 794.5h1M402 721.5h1M287 820.5h1M243 751.5h1M397 815.5h1M264 798.5h1M281 852.5h1M293 834.5h1M374 859.5h1M327 864.5h1M404 807.5h1M313 864.5h1M387 760.5h1M398 795.5h1M272 812.5h1M284 781.5h1M273 824.5h1M382 869.5h1M217 749.5h1M280 803.5h1M270 800.5h1M282 761.5h1M287 833.5h1M363 711.5h1M335 859.5h1M319 743.5h1M339 729.5h1M286 766.5h1M330 860.5h1M303 889.5h1M407 790.5h1M307 844.5h1M287 743.5h1M270 771.5h1M250 803.5h1M336 741.5h1M357 849.5h1M403 805.5h1M232 807.5h1M402 770.5h1M366 706.5h1M363 746.5h1M273 816.5h1M286 765.5h1M299 758.5h1M394 824.5h1M296 833.5h1M368 735.5h1M295 745.5h1M410 757.5h1M401 736.5h1M288 752.5h1M254 794.5h1M294 757.5h1M407 853.5h1M289 774.5h1M393 759.5h1M330 855.5h1M355 719.5h1M447 841.5h1M281 777.5h1M399 793.5h1M425 814.5h1M288 775.5h1M316 844.5h1M330 744.5h1M311 745.5h1M400 852.5h1M258 809.5h1M277 733.5h1M411 803.5h1M331 734.5h1M422 724.5h1M390 821.5h1M273 752.5h1M401 787.5h1M378 859.5h1M287 809.5h1M395 811.5h1M277 816.5h1M264 783.5h1M398 855.5h1M402 844.5h1M305 741.5h1M324 743.5h1M374 738.5h1M340 852.5h1M251 762.5h1M281 787.5h1M367 747.5h1M407 843.5h1M385 757.5h1M285 775.5h1M305 855.5h1M269 780.5h1M345 738.5h1M413 799.5h1M392 832.5h1M303 852.5h1M289 764.5h1M402 778.5h1M261 766.5h1M314 844.5h1M363 869.5h1M277 795.5h1M402 768.5h1M358 745.5h1M323 713.5h1M244 797.5h1M325 739.5h1M387 748.5h1M283 788.5h1M357 705.5h1M411 802.5h1M266 791.5h1M420 826.5h1M317 743.5h1M403 775.5h1M385 744.5h1M302 852.5h1M354 731.5h1M409 774.5h1M312 841.5h1M396 777.5h1M334 731.5h1M391 853.5h1M318 738.5h1M270 806.5h1M301 862.5h1M295 852.5h1M380 832.5h1M381 846.5h1M404 762.5h1M400 769.5h1M272 820.5h1M289 845.5h1M284 745.5h1M293 749.5h1M389 764.5h1M367 732.5h1M285 821.5h1M354 724.5h1M397 845.5h1M382 856.5h1M379 849.5h1M445 750.5h1M362 860.5h1M409 756.5h1M294 851.5h1M308 751.5h1M283 787.5h1M308 735.5h1M275 774.5h1M337 734.5h1M294 747.5h1M283 789.5h1M271 766.5h1M355 727.5h1M304 741.5h1M333 737.5h1M409 839.5h1M282 763.5h1M382 846.5h1M390 859.5h1M291 836.5h1M333 743.5h1M262 752.5h1M414 808.5h1M400 809.5h1M286 824.5h1M336 867.5h1M333 725.5h1M364 738.5h1M274 780.5h1M302 725.5h1M395 840.5h1M273 798.5h1M413 793.5h1M372 745.5h1M282 814.5h1M286 749.5h1M247 770.5h1M321 730.5h1M295 735.5h1M347 843.5h1M276 821.5h1M277 804.5h1M420 767.5h1M364 746.5h1M395 817.5h1M278 804.5h1M299 750.5h1M427 835.5h1M279 769.5h1M399 769.5h1M281 812.5h1M320 880.5h1M386 761.5h1M407 800.5h1M273 808.5h1M297 749.5h1M285 832.5h1M354 743.5h1M274 753.5h1M267 780.5h1M346 867.5h1M388 754.5h1M294 831.5h1M334 845.5h1M282 840.5h1M310 740.5h1M251 797.5h1M394 823.5h1M352 873.5h1M317 876.5h1M407 752.5h1M368 748.5h1M264 780.5h1M329 737.5h1M331 677.5h1M268 790.5h1M421 791.5h1M404 821.5h1M321 737.5h1M238 802.5h1M361 724.5h1M352 737.5h1M278 771.5h1M324 847.5h1M378 851.5h1M402 755.5h1M354 868.5h1M401 829.5h1M327 853.5h1M308 837.5h1M339 715.5h1M389 857.5h1M406 795.5h1M405 779.5h1M297 762.5h1M254 724.5h1M229 713.5h1M314 865.5h1M379 737.5h1M386 760.5h1M417 819.5h1M271 842.5h1M282 801.5h1M384 832.5h1M294 749.5h1M304 744.5h1M360 744.5h1M423 828.5h1M376 725.5h1M291 770.5h1M351 742.5h1M328 864.5h1M386 756.5h1M405 809.5h1M305 726.5h1M391 743.5h1M339 844.5h1M315 865.5h1M346 734.5h1M296 747.5h1M416 836.5h1M332 843.5h1M374 838.5h1M391 864.5h1M260 778.5h1M287 769.5h1M277 801.5h1M303 748.5h1M330 733.5h1M267 774.5h1M387 834.5h1M292 835.5h1M301 755.5h1M411 829.5h1M371 841.5h1M342 733.5h1M286 835.5h1M340 888.5h1M312 845.5h1M412 773.5h1M418 719.5h1M284 790.5h1M248 783.5h1M340 743.5h1M400 787.5h1M343 737.5h1M288 758.5h1M336 742.5h1M269 757.5h1M366 853.5h1M348 864.5h1M271 793.5h1M403 743.5h1M381 755.5h1M297 838.5h1M328 849.5h1M357 844.5h1M400 744.5h1M395 870.5h1M368 848.5h1M260 797.5h1M371 725.5h1M396 816.5h1M403 792.5h1M388 850.5h1M400 746.5h1M273 805.5h1M264 796.5h1M396 811.5h1M354 744.5h1M305 733.5h1M294 824.5h1M326 744.5h1M292 756.5h1M343 847.5h1M360 888.5h1M284 711.5h1M275 808.5h1M372 853.5h1M367 745.5h1M397 841.5h1M386 831.5h1M392 853.5h1M344 730.5h1M343 725.5h1M387 842.5h1M277 845.5h1M379 838.5h1M401 732.5h1M295 721.5h1M369 839.5h1M314 746.5h1M364 737.5h1M288 822.5h1M394 768.5h1M282 808.5h1M388 829.5h1M372 852.5h1M321 745.5h1M419 824.5h1M298 829.5h1M268 808.5h1M408 817.5h1M328 741.5h1M354 862.5h1M408 785.5h1M272 790.5h1M316 846.5h1M325 721.5h1M305 856.5h1M324 734.5h1M301 830.5h1M307 700.5h1M333 861.5h1M400 765.5h1M387 753.5h1M411 812.5h1M365 727.5h1M323 853.5h1M385 753.5h1M281 767.5h1M369 843.5h1M369 749.5h1M363 736.5h1M399 819.5h1M382 853.5h1M385 750.5h1M324 849.5h1M279 795.5h1M431 753.5h1M358 851.5h1M339 861.5h1M291 710.5h1M419 812.5h1M334 740.5h1M298 748.5h1M405 821.5h1M379 755.5h1M384 858.5h1M339 742.5h1M327 742.5h1M362 739.5h1M310 727.5h1M358 663.5h1M360 847.5h1M373 853.5h1M272 766.5h1M385 835.5h1M263 819.5h1M376 746.5h1M340 857.5h1M371 849.5h1M308 840.5h1M360 729.5h1M378 839.5h1M290 726.5h1M314 838.5h1M396 730.5h1M285 789.5h1M396 831.5h1M411 778.5h1M284 812.5h1M267 833.5h1M333 738.5h1M347 869.5h1M353 868.5h1M388 827.5h1M349 735.5h1M269 799.5h1M337 741.5h1M349 741.5h1M257 778.5h1M331 854.5h1M395 755.5h1M273 830.5h1M297 759.5h1M303 843.5h1M349 844.5h1M401 800.5h1M318 745.5h1M396 814.5h1M344 709.5h1M358 872.5h1M315 735.5h1M261 802.5h1M265 784.5h1M400 783.5h1M249 810.5h1M317 879.5h1M288 830.5h1M317 720.5h1M299 827.5h1M344 726.5h1M384 737.5h1M285 737.5h1M282 732.5h1M383 833.5h1M277 757.5h1M355 736.5h1M403 801.5h1M409 807.5h1M379 747.5h1M397 801.5h1M359 845.5h1M401 788.5h1M309 848.5h1M245 776.5h1M398 772.5h1M369 850.5h1M308 741.5h1M405 780.5h1M309 883.5h1M305 731.5h1M268 818.5h1M260 774.5h1M265 817.5h1M351 867.5h1M362 738.5h1M265 754.5h1M345 862.5h1M413 818.5h1M315 710.5h1M404 832.5h1M322 737.5h1M384 849.5h1M400 766.5h1M405 787.5h1M354 741.5h1M343 742.5h1M282 810.5h1M275 795.5h1M390 767.5h1M281 769.5h1M287 758.5h1M380 833.5h1M374 744.5h1M425 804.5h1M259 748.5h1M273 823.5h1M294 835.5h1M398 776.5h1M258 767.5h1M339 730.5h1M417 761.5h1M318 709.5h1M241 795.5h1M398 756.5h1M407 733.5h1M300 735.5h1M418 789.5h1M297 842.5h1M397 741.5h1M283 796.5h1M382 845.5h1M356 715.5h1M387 828.5h1M405 762.5h1M380 741.5h1M315 841.5h1M284 823.5h1M322 732.5h1M415 807.5h1M348 863.5h1M339 864.5h1M396 741.5h1M254 827.5h1M374 841.5h1M388 728.5h1M411 815.5h1M337 844.5h1M293 820.5h1M353 843.5h1M284 849.5h1M281 796.5h1M389 761.5h1M370 744.5h1M408 757.5h1M255 830.5h1M417 802.5h1M280 813.5h1M359 846.5h1M359 875.5h1M394 845.5h1M414 823.5h1M284 742.5h1M352 842.5h1M406 753.5h1M374 846.5h1M371 742.5h1M267 770.5h1M327 723.5h1M408 777.5h1M285 776.5h1M401 776.5h1M408 791.5h1M225 786.5h1M251 757.5h1M331 724.5h1M280 863.5h1M346 737.5h1M316 838.5h1M316 736.5h1M354 843.5h1M289 743.5h1M302 836.5h1M311 838.5h1M368 860.5h1M394 815.5h1M253 799.5h1M255 759.5h1M303 750.5h1M382 755.5h1M356 848.5h1M378 855.5h1M316 748.5h1M277 794.5h1M293 762.5h1M361 840.5h1M403 750.5h1M351 873.5h1M386 717.5h1M281 745.5h1M297 835.5h1M287 776.5h1M344 731.5h1M389 846.5h1M296 838.5h1M373 728.5h1M410 794.5h1M303 841.5h1M332 743.5h1M281 799.5h1M269 840.5h1M279 826.5h1M282 785.5h1M357 854.5h1M395 753.5h1M388 744.5h1M395 759.5h1M238 775.5h1M364 842.5h1M295 845.5h1M391 832.5h1M405 786.5h1M290 839.5h1M315 855.5h1M384 740.5h1M298 759.5h1M312 746.5h1M293 864.5h1M368 837.5h1M277 740.5h1M404 810.5h1M308 750.5h1M306 836.5h1M279 805.5h1M311 839.5h1M385 760.5h1M342 724.5h1M416 793.5h1M312 741.5h1M300 830.5h1M436 763.5h1M322 842.5h1M311 858.5h1M392 854.5h1M301 740.5h1M286 820.5h1M357 843.5h1M430 788.5h1M371 745.5h1M398 734.5h1M380 837.5h1M314 843.5h1M325 738.5h1M385 730.5h1M317 856.5h1M345 863.5h1M290 816.5h1M359 847.5h1M410 787.5h1M394 713.5h1M262 742.5h1M427 802.5h1M397 775.5h1M389 758.5h1M342 848.5h1M312 728.5h1M292 829.5h1M366 748.5h1M404 738.5h1M371 735.5h1M281 774.5h1M352 739.5h1M285 749.5h1M348 848.5h1M297 826.5h1M396 756.5h1M275 797.5h1M298 752.5h1M280 823.5h1M370 838.5h1M406 823.5h1M348 718.5h1M263 722.5h1M367 744.5h1M338 871.5h1M276 781.5h1M283 846.5h1M327 857.5h1M386 757.5h1M277 748.5h1M375 752.5h1M276 832.5h1M408 779.5h1M348 861.5h1M280 790.5h1M409 820.5h1M398 781.5h1M426 797.5h1M409 843.5h1M321 854.5h1M358 744.5h1M383 839.5h1M286 770.5h1M371 837.5h1M357 730.5h1M436 776.5h1M261 789.5h1M329 720.5h1M335 856.5h1M284 729.5h1M298 744.5h1M403 779.5h1M403 817.5h1M303 831.5h1M349 861.5h1M305 747.5h1M287 733.5h1M293 767.5h1M307 706.5h1M299 753.5h1M384 836.5h1M275 770.5h1M267 818.5h1M371 859.5h1M324 741.5h1M357 841.5h1M279 778.5h1M412 783.5h1M331 852.5h1M384 758.5h1M364 740.5h1M257 798.5h1M372 741.5h1M416 770.5h1M273 853.5h1M292 759.5h1M302 753.5h1M380 830.5h1M427 781.5h1M306 845.5h1M322 727.5h1M331 732.5h1M340 853.5h1M250 808.5h1M397 743.5h1M394 749.5h1M270 837.5h1M395 766.5h1M279 869.5h1M368 840.5h1M357 857.5h1M348 730.5h1M317 852.5h1M357 842.5h1M420 777.5h1M346 855.5h1M278 763.5h1M396 822.5h1M340 741.5h1M300 831.5h1M346 853.5h1M254 763.5h1M373 871.5h1M283 784.5h1M333 865.5h1M268 819.5h1M284 818.5h1M360 745.5h1M304 837.5h1M326 865.5h1M284 821.5h1M262 775.5h1M327 744.5h1M406 778.5h1M394 773.5h1M448 803.5h1M445 764.5h1M341 735.5h1M334 725.5h1M451 756.5h1M307 713.5h1M268 772.5h1M322 735.5h1M299 858.5h1M269 776.5h1M394 867.5h1M385 725.5h1M266 777.5h1M283 851.5h1M297 829.5h1M388 823.5h1M384 724.5h1M275 782.5h1M403 777.5h1M347 741.5h1M338 867.5h1M350 880.5h1M326 726.5h1M405 744.5h1M300 726.5h1M281 839.5h1M334 732.5h1M373 737.5h1M311 744.5h1M396 751.5h1M275 840.5h1M283 760.5h1M265 793.5h1M275 847.5h1M402 722.5h1M397 757.5h1M394 811.5h1M387 838.5h1M389 829.5h1M269 767.5h1M345 843.5h1M276 722.5h1M373 873.5h1M290 746.5h1M410 832.5h1M277 812.5h1M289 770.5h1M417 780.5h1M259 740.5h1M274 807.5h1M402 763.5h1M286 752.5h1M386 829.5h1M293 750.5h1M276 789.5h1M277 800.5h1M397 854.5h1M315 746.5h1M374 735.5h1M280 784.5h1M273 831.5h1M471 773.5h1M262 791.5h1M430 771.5h1M316 731.5h1M377 837.5h1M407 824.5h1M370 857.5h1M380 747.5h1M319 840.5h1M300 750.5h1M378 843.5h1M362 851.5h1M354 865.5h1M335 742.5h1M279 780.5h1M276 785.5h1M310 751.5h1M284 799.5h1M295 839.5h1M413 809.5h1M307 741.5h1M277 790.5h1M274 790.5h1M288 764.5h1M320 725.5h1M371 843.5h1M351 691.5h1M277 799.5h1M404 787.5h1M281 828.5h1M403 746.5h1M366 747.5h1M290 758.5h1M304 842.5h1M326 851.5h1M292 739.5h1M232 793.5h1M386 825.5h1M408 816.5h1M352 741.5h1M284 815.5h1M421 750.5h1M331 740.5h1M389 752.5h1M371 836.5h1M312 731.5h1M370 737.5h1M264 770.5h1M395 820.5h1M340 847.5h1M284 826.5h1M414 792.5h1M414 811.5h1M401 785.5h1M397 768.5h1M406 770.5h1M384 716.5h1M362 855.5h1M292 736.5h1M322 845.5h1M273 795.5h1M371 748.5h1M417 786.5h1M271 790.5h1M272 813.5h1M404 800.5h1M389 828.5h1M387 764.5h1M409 768.5h1M390 824.5h1M301 754.5h1M392 816.5h1M365 743.5h1M266 755.5h1M373 751.5h1M285 786.5h1M281 831.5h1M288 736.5h1M366 869.5h1M285 805.5h1M269 826.5h1M381 746.5h1M417 797.5h1M285 794.5h1M309 866.5h1M399 760.5h1M283 799.5h1M391 822.5h1M308 742.5h1M359 844.5h1M408 850.5h1M373 745.5h1M370 748.5h1M379 739.5h1M367 840.5h1M318 725.5h1M275 846.5h1M392 736.5h1M410 778.5h1M306 723.5h1M336 847.5h1M333 853.5h1M293 752.5h1M337 736.5h1M386 830.5h1M281 826.5h1M329 848.5h1M364 846.5h1M320 726.5h1M388 759.5h1M391 759.5h1M302 735.5h1M386 753.5h1M301 737.5h1M298 851.5h1M397 762.5h1M278 788.5h1M385 839.5h1M360 850.5h1M357 861.5h1M341 723.5h1M407 743.5h1M296 762.5h1M267 782.5h1M348 844.5h1M256 859.5h1M392 770.5h1M409 794.5h1M405 817.5h1M285 803.5h1M398 843.5h1M439 788.5h1M385 756.5h1M410 819.5h1M399 789.5h1M304 754.5h1M318 744.5h1M310 842.5h1M290 759.5h1M320 847.5h1M397 758.5h1M326 741.5h1M311 843.5h1M381 751.5h1M359 860.5h1M272 787.5h1M364 741.5h1M259 792.5h1M298 826.5h1M277 741.5h1M307 734.5h1M295 754.5h1M282 757.5h1M338 852.5h1M403 810.5h1M310 861.5h1M377 841.5h1M276 782.5h1M315 748.5h1M294 755.5h1M291 821.5h1M285 824.5h1M317 730.5h1M255 784.5h1M402 833.5h1M405 818.5h1M298 750.5h1M421 780.5h1M297 827.5h1M359 842.5h1M300 844.5h1M396 847.5h1M260 808.5h1M255 800.5h1M264 792.5h1M290 761.5h1M283 777.5h1M287 852.5h1M302 835.5h1M278 795.5h1M343 741.5h1M286 804.5h1M394 852.5h1M301 743.5h1M405 753.5h1M401 857.5h1M395 823.5h1M414 839.5h1M271 797.5h1M404 799.5h1M290 770.5h1M409 805.5h1M291 824.5h1M401 778.5h1M390 738.5h1M356 843.5h1M394 856.5h1M379 736.5h1M294 728.5h1M328 854.5h1M418 816.5h1M404 747.5h1M412 776.5h1M414 786.5h1M299 740.5h1M318 845.5h1M282 796.5h1M291 765.5h1M395 772.5h1M280 771.5h1M389 853.5h1M340 735.5h1M381 742.5h1M391 758.5h1M290 738.5h1M283 798.5h1M419 760.5h1M398 831.5h1M369 846.5h1M325 719.5h1M414 847.5h1M375 847.5h1M351 727.5h1M267 766.5h1M302 863.5h1M312 844.5h1M418 809.5h1M397 827.5h1M374 734.5h1M287 757.5h1M304 841.5h1M248 801.5h1M291 818.5h1M291 736.5h1M305 876.5h1M279 813.5h1M386 833.5h1M401 763.5h1M325 725.5h1M374 749.5h1M237 791.5h1M372 740.5h1M393 817.5h1M378 722.5h1M331 843.5h1M361 875.5h1M418 794.5h1M357 860.5h1M310 835.5h1M285 772.5h1M300 744.5h1M376 738.5h1M257 788.5h1M284 769.5h1M341 725.5h1M356 846.5h1M401 802.5h1M390 752.5h1M403 780.5h1M267 789.5h1M278 812.5h1M374 747.5h1M368 851.5h1M324 850.5h1M315 839.5h1M401 792.5h1M314 741.5h1M408 831.5h1M274 786.5h1M378 834.5h1M344 734.5h1M374 860.5h1M301 833.5h1M290 737.5h1M334 733.5h1M394 817.5h1M328 859.5h1M311 856.5h1M342 697.5h1M341 740.5h1M399 776.5h1M296 825.5h1M375 840.5h1M271 754.5h1M399 746.5h1M345 844.5h1M285 847.5h1M402 743.5h1M239 805.5h1M406 792.5h1M401 781.5h1M424 811.5h1M373 842.5h1M285 763.5h1M349 710.5h1M358 737.5h1M377 723.5h1M313 841.5h1M291 742.5h1M408 796.5h1M388 763.5h1M370 746.5h1M325 734.5h1M285 781.5h1M296 844.5h1M313 729.5h1M312 872.5h1M421 784.5h1M400 770.5h1M266 744.5h1M272 749.5h1M349 858.5h1M261 779.5h1M392 822.5h1M351 717.5h1M366 852.5h1M275 708.5h1M335 734.5h1M343 739.5h1M399 720.5h1M405 812.5h1M415 810.5h1M378 840.5h1M381 733.5h1M329 741.5h1M329 843.5h1M391 768.5h1M397 726.5h1M402 807.5h1M410 789.5h1M346 869.5h1M322 726.5h1M421 740.5h1M361 733.5h1M283 710.5h1M363 840.5h1M267 820.5h1M265 816.5h1M404 784.5h1M287 830.5h1M415 775.5h1M283 828.5h1M367 851.5h1M291 758.5h1M354 734.5h1M270 778.5h1M315 742.5h1M273 779.5h1M423 795.5h1M264 812.5h1M320 728.5h1M282 831.5h1M385 880.5h1M275 779.5h1M348 724.5h1M345 889.5h1M382 731.5h1M291 760.5h1M401 812.5h1M381 868.5h1M333 868.5h1M410 763.5h1M262 773.5h1M375 842.5h1M321 733.5h1M365 728.5h1M271 749.5h1M279 790.5h1M297 761.5h1M388 762.5h1M412 805.5h1M326 860.5h1M327 743.5h1M278 844.5h1M389 842.5h1M391 823.5h1M276 825.5h1M298 828.5h1M363 735.5h1M296 849.5h1M297 825.5h1M305 727.5h1M395 773.5h1M408 813.5h1M298 837.5h1M307 849.5h1M362 735.5h1M403 772.5h1M326 852.5h1M343 852.5h1M288 828.5h1M383 754.5h1M324 740.5h1M403 768.5h1M326 725.5h1M302 746.5h1M387 824.5h1M394 842.5h1M454 809.5h1M317 736.5h1M416 857.5h1M272 817.5h1M389 841.5h1M392 818.5h1M371 844.5h1M414 848.5h1M356 723.5h1M287 744.5h1M395 839.5h1M274 769.5h1M296 745.5h1M391 747.5h1M255 820.5h1M312 745.5h1M350 868.5h1M331 864.5h1M386 742.5h1M325 854.5h1M401 816.5h1M404 833.5h1M274 762.5h1M368 850.5h1M320 746.5h1M286 783.5h1M304 849.5h1M402 835.5h1M284 805.5h1M402 799.5h1M392 821.5h1M272 777.5h1M313 746.5h1M379 743.5h1M407 821.5h1M302 837.5h1M379 839.5h1M302 745.5h1M267 777.5h1M288 765.5h1M418 848.5h1M301 741.5h1M330 742.5h1M324 731.5h1M391 752.5h1M287 772.5h1M333 733.5h1M413 795.5h1M260 777.5h1M276 784.5h1M279 798.5h1M272 763.5h1M296 733.5h1M325 842.5h1M303 756.5h1M304 843.5h1M410 772.5h1M314 744.5h1M273 885.5h1M316 860.5h1M274 810.5h1M370 743.5h1M332 737.5h1M269 828.5h1M345 847.5h1M287 753.5h1M279 850.5h1M284 811.5h1M420 843.5h1M404 852.5h1M317 705.5h1M429 816.5h1M398 758.5h1M309 725.5h1M400 767.5h1M263 777.5h1M350 707.5h1M411 775.5h1M304 840.5h1M412 828.5h1M290 817.5h1M351 849.5h1M283 757.5h1M260 771.5h1M285 787.5h1M297 824.5h1M313 853.5h1M422 836.5h1M273 781.5h1M263 790.5h1M245 786.5h1M421 805.5h1M400 792.5h1M286 836.5h1M260 764.5h1M406 818.5h1M282 749.5h1M398 771.5h1M356 844.5h1M258 806.5h1M295 846.5h1M332 722.5h1M434 773.5h1M412 781.5h1M273 785.5h1M410 829.5h1M349 713.5h1M303 838.5h1M306 747.5h1M297 841.5h1M305 841.5h1M280 846.5h1M262 806.5h1M387 722.5h1M297 836.5h1M321 715.5h1M368 745.5h1M313 857.5h1M265 785.5h1M302 858.5h1M292 743.5h1M399 800.5h1M273 801.5h1M267 749.5h1M306 735.5h1M344 851.5h1M284 791.5h1M280 802.5h1M397 835.5h1M390 765.5h1M294 844.5h1M301 715.5h1M407 761.5h1M390 737.5h1M273 815.5h1M391 824.5h1M290 771.5h1M302 855.5h1M388 751.5h1M297 845.5h1M294 761.5h1M426 785.5h1M306 750.5h1M286 807.5h1M418 787.5h1M284 806.5h1M273 777.5h1M366 850.5h1M424 842.5h1M308 725.5h1M366 745.5h1M280 807.5h1M306 858.5h1M412 816.5h1M261 780.5h1M311 715.5h1M430 781.5h1M374 845.5h1M355 741.5h1M346 859.5h1M301 725.5h1M335 862.5h1M281 737.5h1M302 840.5h1M276 774.5h1M377 716.5h1M291 835.5h1M322 852.5h1M385 841.5h1M400 823.5h1M395 774.5h1M302 748.5h1M423 739.5h1M294 732.5h1M365 723.5h1M390 834.5h1M412 800.5h1M334 738.5h1M427 834.5h1M374 837.5h1M286 759.5h1M281 809.5h1M351 844.5h1M421 816.5h1M329 735.5h1M373 835.5h1M286 841.5h1M395 764.5h1M281 771.5h1M416 806.5h1M421 782.5h1M403 800.5h1M296 824.5h1M294 758.5h1M294 719.5h1M349 848.5h1M399 779.5h1M320 729.5h1M433 754.5h1M435 805.5h1M257 785.5h1M276 763.5h1M240 755.5h1M314 736.5h1M268 804.5h1M375 750.5h1M378 863.5h1M289 713.5h1M402 766.5h1M304 850.5h1M298 841.5h1M411 763.5h1M379 857.5h1M307 838.5h1M287 823.5h1M327 854.5h1M398 786.5h1M411 810.5h1M278 786.5h1M406 732.5h1M362 841.5h1M307 750.5h1M406 801.5h1M321 859.5h1M265 766.5h1M414 809.5h1M453 816.5h1M402 746.5h1M319 849.5h1M454 774.5h1M384 826.5h1M411 823.5h1M332 861.5h1M293 819.5h1M299 863.5h1M271 833.5h1M266 802.5h1M411 766.5h1M271 811.5h1M328 742.5h1M356 731.5h1M406 766.5h1M336 845.5h1M330 737.5h1M376 751.5h1M277 810.5h1M286 767.5h1M274 823.5h1M412 801.5h1M376 747.5h1M290 768.5h1M368 881.5h1M275 732.5h1M388 830.5h1M413 780.5h1M382 844.5h1M383 732.5h1M286 851.5h1M286 815.5h1M293 837.5h1M399 777.5h1M388 839.5h1M419 828.5h1M295 835.5h1M316 735.5h1M323 738.5h1M347 730.5h1M260 760.5h1M334 726.5h1M274 750.5h1M267 764.5h1M377 754.5h1M360 843.5h1M342 728.5h1M418 818.5h1M398 778.5h1M327 849.5h1M241 811.5h1M283 751.5h1M399 763.5h1M297 837.5h1M289 827.5h1M350 848.5h1M311 848.5h1M384 761.5h1M423 780.5h1M283 811.5h1M404 850.5h1M400 771.5h1M286 776.5h1M411 760.5h1M409 772.5h1M413 819.5h1M360 851.5h1M366 712.5h1M376 841.5h1M422 751.5h1M440 748.5h1M278 823.5h1M317 724.5h1M399 809.5h1M321 732.5h1M266 799.5h1M319 735.5h1M377 839.5h1M363 855.5h1M284 838.5h1M413 772.5h1M372 721.5h1M333 741.5h1M368 847.5h1M405 794.5h1M313 742.5h1M373 838.5h1M366 732.5h1M299 732.5h1M353 875.5h1M416 782.5h1M280 769.5h1M401 825.5h1M311 840.5h1M405 781.5h1M265 823.5h1M337 735.5h1M277 853.5h1M296 831.5h1M243 827.5h1M414 766.5h1M271 789.5h1M355 691.5h1M385 845.5h1M404 778.5h1M413 761.5h1M377 735.5h1M264 829.5h1M398 806.5h1M284 755.5h1M427 813.5h1M316 850.5h1M295 825.5h1M231 780.5h1M302 715.5h1M323 707.5h1M418 759.5h1M301 753.5h1M289 820.5h1M405 835.5h1M334 739.5h1M374 746.5h1M426 740.5h1M405 825.5h1M433 818.5h1M330 857.5h1M310 745.5h1M297 849.5h1M266 801.5h1M395 815.5h1M288 747.5h1M371 850.5h1M329 730.5h1M363 733.5h1M359 733.5h1M404 777.5h1M347 736.5h1M403 816.5h1M290 735.5h1M318 841.5h1M321 851.5h1M286 809.5h1M356 862.5h1M377 746.5h1M372 717.5h1M311 844.5h1M356 740.5h1M398 809.5h1M399 794.5h1M383 756.5h1M398 780.5h1M282 811.5h1M295 739.5h1M393 749.5h1M221 782.5h1M268 776.5h1M281 738.5h1M401 842.5h1M280 772.5h1M322 847.5h1M292 751.5h1M392 831.5h1M411 740.5h1M387 749.5h1M341 719.5h1M244 795.5h1M327 739.5h1M358 727.5h1M321 739.5h1M394 827.5h1M351 850.5h1M286 737.5h1M323 859.5h1M279 817.5h1M370 839.5h1M386 744.5h1M346 729.5h1M384 827.5h1M417 784.5h1M407 811.5h1M268 807.5h1M382 741.5h1M355 854.5h1M432 828.5h1M393 750.5h1M383 865.5h1M285 782.5h1M376 838.5h1M320 849.5h1M383 853.5h1M397 840.5h1M352 857.5h1M280 785.5h1M305 853.5h1M339 722.5h1M273 748.5h1M286 805.5h1M320 733.5h1M296 829.5h1M402 817.5h1M354 863.5h1M308 854.5h1M271 763.5h1M342 741.5h1M360 735.5h1M409 775.5h1M324 852.5h1M344 859.5h1M396 772.5h1M384 734.5h1M284 771.5h1M268 756.5h1M395 776.5h1M293 727.5h1M288 770.5h1M400 777.5h1M302 850.5h1M280 796.5h1M399 852.5h1M297 745.5h1M279 849.5h1M269 809.5h1M272 760.5h1M346 863.5h1M403 766.5h1M390 820.5h1M469 791.5h1M342 847.5h1M324 857.5h1M354 719.5h1M388 753.5h1M357 727.5h1M361 746.5h1M352 725.5h1M392 842.5h1M294 825.5h1M419 783.5h1M262 794.5h1M396 764.5h1M414 826.5h1M283 773.5h1M309 857.5h1M275 831.5h1M287 736.5h1M285 848.5h1M360 852.5h1M329 719.5h1M385 831.5h1M377 750.5h1M381 831.5h1M403 795.5h1M287 812.5h1M267 806.5h1M415 815.5h1M404 768.5h1M404 841.5h1M372 732.5h1M393 752.5h1M383 727.5h1M312 739.5h1M370 718.5h1M392 825.5h1M426 786.5h1M261 753.5h1M358 841.5h1M351 724.5h1M298 745.5h1M271 799.5h1M407 815.5h1M289 828.5h1M410 801.5h1M338 847.5h1M295 752.5h1M345 723.5h1M405 827.5h1M349 705.5h1M302 738.5h1M389 742.5h1M268 815.5h1M364 728.5h1M378 842.5h1M349 739.5h1M251 827.5h1M404 828.5h1M265 761.5h1M297 756.5h1M312 842.5h1M323 847.5h1M272 797.5h1M284 795.5h1M413 853.5h1M343 728.5h1M396 762.5h1M399 738.5h1M414 787.5h1M317 848.5h1M413 800.5h1M353 717.5h1M404 746.5h1M289 839.5h1M393 758.5h1M303 733.5h1M276 793.5h1M281 840.5h1M362 852.5h1M294 842.5h1M374 751.5h1M344 853.5h1M353 844.5h1M312 852.5h1M387 871.5h1M361 729.5h1M281 775.5h1M279 825.5h1M387 835.5h1M412 751.5h1M397 778.5h1M323 844.5h1M358 864.5h1M271 769.5h1M273 763.5h1M399 740.5h1M268 806.5h1M380 743.5h1M286 764.5h1M285 747.5h1M413 768.5h1M399 725.5h1M322 722.5h1M344 845.5h1M400 834.5h1M406 767.5h1M392 727.5h1M300 858.5h1M377 842.5h1M412 759.5h1M252 800.5h1M282 784.5h1M218 792.5h1M350 735.5h1M342 735.5h1M389 713.5h1M364 742.5h1M287 841.5h1M308 744.5h1M366 742.5h1M294 828.5h1M400 778.5h1M378 833.5h1M329 740.5h1M397 785.5h1M262 769.5h1M269 763.5h1M333 724.5h1M309 860.5h1M246 739.5h1M393 835.5h1M285 837.5h1M276 754.5h1M375 736.5h1M273 857.5h1M416 727.5h1M278 743.5h1M373 858.5h1M284 775.5h1M406 816.5h1M307 839.5h1M417 842.5h1M389 751.5h1M280 762.5h1M280 789.5h1M271 758.5h1M282 744.5h1M292 722.5h1M311 743.5h1M390 762.5h1M350 843.5h1M366 861.5h1M336 852.5h1M430 802.5h1M406 787.5h1M312 848.5h1M354 710.5h1M277 881.5h1M328 737.5h1M273 722.5h1M267 809.5h1M404 794.5h1M317 747.5h1M278 785.5h1M285 829.5h1M320 739.5h1M284 830.5h1M408 738.5h1M419 821.5h1M357 856.5h1M279 782.5h1M422 740.5h1M359 868.5h1M275 776.5h1M377 838.5h1M304 834.5h1M389 753.5h1M347 879.5h1M379 738.5h1M348 853.5h1M269 760.5h1M422 828.5h1M318 742.5h1M258 781.5h1M344 740.5h1M329 859.5h1M300 840.5h1M279 819.5h1M317 854.5h1M279 776.5h1M384 853.5h1M392 764.5h1M362 875.5h1M356 741.5h1M356 863.5h1M423 792.5h1M381 845.5h1M384 752.5h1M370 735.5h1M406 777.5h1M398 754.5h1M346 738.5h1M380 835.5h1M316 867.5h1M302 834.5h1M257 831.5h1M423 822.5h1M314 748.5h1M401 803.5h1M329 738.5h1M360 858.5h1M413 844.5h1M302 756.5h1M349 852.5h1M286 762.5h1M278 820.5h1M315 732.5h1M370 842.5h1M421 817.5h1M282 806.5h1M360 733.5h1M350 862.5h1M289 813.5h1M413 743.5h1M303 746.5h1M335 846.5h1M284 844.5h1M435 778.5h1M424 832.5h1M395 821.5h1M223 793.5h1M283 849.5h1M324 742.5h1M304 742.5h1M352 869.5h1M347 742.5h1M464 786.5h1M325 845.5h1M288 850.5h1M398 796.5h1M395 771.5h1M281 764.5h1M259 780.5h1M434 828.5h1M405 800.5h1M377 832.5h1M432 788.5h1M338 727.5h1M366 855.5h1M378 745.5h1M308 852.5h1M363 852.5h1M383 751.5h1M397 761.5h1M253 779.5h1M329 726.5h1M300 828.5h1M244 800.5h1M280 781.5h1M305 845.5h1M334 737.5h1M367 862.5h1M401 821.5h1M399 780.5h1M395 829.5h1M364 743.5h1M315 843.5h1M377 848.5h1M390 757.5h1M393 840.5h1M280 760.5h1M283 767.5h1M347 733.5h1M415 741.5h1M312 868.5h1M322 738.5h1M400 817.5h1M315 744.5h1M328 842.5h1M329 731.5h1M309 843.5h1M267 794.5h1M386 826.5h1M387 745.5h1M275 815.5h1M282 794.5h1M284 842.5h1M389 827.5h1M275 833.5h1M278 809.5h1M245 798.5h1M408 812.5h1M325 744.5h1M395 778.5h1M293 751.5h1M402 789.5h1M276 768.5h1M397 810.5h1M356 856.5h1M276 777.5h1M345 861.5h1M325 844.5h1M284 739.5h1M391 767.5h1M388 844.5h1M420 819.5h1M419 815.5h1M270 730.5h1M395 742.5h1M333 728.5h1M400 739.5h1M327 736.5h1M334 849.5h1M358 719.5h1M367 839.5h1M360 844.5h1M304 880.5h1M281 757.5h1M414 780.5h1M357 845.5h1M257 811.5h1M277 702.5h1M418 829.5h1M348 736.5h1M282 847.5h1M353 849.5h1M311 737.5h1M331 710.5h1M404 854.5h1M408 838.5h1M286 739.5h1M282 809.5h1M411 816.5h1M402 800.5h1M300 845.5h1M396 840.5h1M276 802.5h1M309 737.5h1M283 768.5h1M274 759.5h1M342 868.5h1M390 842.5h1M279 756.5h1M287 721.5h1M343 736.5h1M406 773.5h1M350 866.5h1M413 771.5h1M469 751.5h1M250 809.5h1M356 743.5h1M391 859.5h1M380 834.5h1M335 727.5h1M427 810.5h1M400 803.5h1M330 842.5h1M418 825.5h1M277 817.5h1M312 726.5h1M255 807.5h1M256 791.5h1M403 765.5h1M352 720.5h1M272 758.5h1M321 840.5h1M298 761.5h1M369 748.5h1M406 802.5h1M409 836.5h1M418 819.5h1M333 851.5h1M285 725.5h1M302 831.5h1M429 805.5h1M326 729.5h1M383 736.5h1M414 821.5h1M374 842.5h1M424 770.5h1M402 792.5h1M399 814.5h1M286 831.5h1M333 729.5h1M281 784.5h1M394 764.5h1M311 746.5h1M392 827.5h1M270 744.5h1M283 804.5h1M399 808.5h1M308 733.5h1M282 778.5h1M413 755.5h1M352 718.5h1M427 796.5h1M272 730.5h1M370 843.5h1M405 782.5h1M411 805.5h1M333 876.5h1M295 761.5h1M396 773.5h1M427 832.5h1M342 730.5h1M404 801.5h1M404 796.5h1M354 871.5h1M408 781.5h1M340 855.5h1M313 848.5h1M405 862.5h1M382 833.5h1M367 731.5h1M435 815.5h1M288 812.5h1M393 745.5h1M294 730.5h1M450 805.5h1M297 844.5h1M345 707.5h1M401 798.5h1M275 814.5h1M401 814.5h1M406 782.5h1M265 764.5h1M397 805.5h1M374 745.5h1M278 846.5h1M288 813.5h1M409 818.5h1M283 813.5h1M402 773.5h1M354 742.5h1M350 863.5h1M367 866.5h1M406 828.5h1M409 783.5h1M280 757.5h1M354 845.5h1M371 851.5h1M416 777.5h1M357 740.5h1M391 736.5h1M254 770.5h1M289 771.5h1M449 767.5h1M261 771.5h1M266 786.5h1M312 866.5h1M371 861.5h1M321 741.5h1M414 805.5h1M276 790.5h1M360 740.5h1M420 796.5h1M384 753.5h1M360 724.5h1M401 754.5h1M297 719.5h1M275 753.5h1M397 773.5h1M299 830.5h1M302 864.5h1M401 748.5h1M326 853.5h1M285 810.5h1M423 765.5h1M369 842.5h1M285 762.5h1M271 820.5h1M326 695.5h1M266 787.5h1M367 740.5h1M298 847.5h1M357 852.5h1M307 737.5h1M429 791.5h1M414 810.5h1M271 745.5h1M300 742.5h1M354 878.5h1M401 813.5h1M402 753.5h1M344 865.5h1M350 851.5h1M310 742.5h1M372 746.5h1M398 804.5h1M343 714.5h1M390 764.5h1M384 847.5h1M387 841.5h1M377 833.5h1M451 837.5h1M407 786.5h1M294 754.5h1M319 847.5h1M277 821.5h1M402 828.5h1M382 736.5h1M407 806.5h1M253 809.5h1M385 754.5h1M415 814.5h1M324 727.5h1M251 764.5h1M318 843.5h1M288 771.5h1M390 875.5h1M285 806.5h1M293 831.5h1M284 808.5h1M346 725.5h1M281 822.5h1M297 752.5h1M262 784.5h1M292 861.5h1M426 808.5h1M421 800.5h1M312 869.5h1M405 816.5h1M291 822.5h1M389 840.5h1M335 860.5h1M278 806.5h1M428 793.5h1M281 728.5h1M299 757.5h1M385 848.5h1M293 842.5h1M287 817.5h1M389 824.5h1M380 878.5h1M294 739.5h1M272 821.5h1M272 834.5h1M331 742.5h1M428 814.5h1M276 869.5h1M397 806.5h1M281 802.5h1M337 729.5h1M345 724.5h1M292 753.5h1M363 744.5h1M335 722.5h1M396 717.5h1M335 739.5h1M431 732.5h1M274 797.5h1M399 799.5h1M285 746.5h1M405 814.5h1M313 749.5h1M293 839.5h1M349 874.5h1M289 838.5h1M417 813.5h1M282 803.5h1M400 814.5h1M276 752.5h1M314 840.5h1M279 765.5h1M409 814.5h1M353 742.5h1M361 853.5h1M327 740.5h1M358 858.5h1M410 799.5h1M364 732.5h1M418 781.5h1M445 807.5h1M383 842.5h1M342 843.5h1M338 865.5h1M404 757.5h1M416 784.5h1M359 843.5h1M381 740.5h1M274 746.5h1M314 849.5h1M311 748.5h1M426 737.5h1M286 751.5h1M420 749.5h1M409 802.5h1M295 876.5h1M315 747.5h1M293 879.5h1M379 754.5h1M264 775.5h1M377 850.5h1M284 786.5h1M288 864.5h1M424 814.5h1M385 749.5h1M263 799.5h1M281 819.5h1M406 772.5h1M426 801.5h1M408 818.5h1M357 744.5h1M394 828.5h1M353 851.5h1M411 780.5h1M316 745.5h1M288 824.5h1M345 870.5h1M398 810.5h1M382 753.5h1M307 835.5h1M287 755.5h1M345 735.5h1M366 737.5h1M359 892.5h1M384 828.5h1M290 757.5h1M373 713.5h1M416 812.5h1M406 800.5h1M408 837.5h1M334 742.5h1M410 805.5h1M356 707.5h1M412 799.5h1M313 862.5h1M389 739.5h1M427 824.5h1M351 852.5h1M395 765.5h1M295 862.5h1M250 829.5h1M265 794.5h1M284 892.5h1M378 752.5h1M420 786.5h1M412 748.5h1M409 801.5h1M360 742.5h1M252 810.5h1M324 738.5h1M392 846.5h1M376 834.5h1M283 822.5h1M400 813.5h1M392 754.5h1M244 783.5h1M432 773.5h1M275 817.5h1M348 738.5h1M396 778.5h1M298 732.5h1M403 823.5h1M359 724.5h1M278 767.5h1M408 747.5h1M444 759.5h1M333 850.5h1M340 851.5h1M263 766.5h1M396 770.5h1M303 856.5h1M259 822.5h1M322 745.5h1M414 813.5h1M282 830.5h1M394 758.5h1M367 848.5h1M398 826.5h1M324 729.5h1M344 743.5h1M383 745.5h1M319 741.5h1M363 740.5h1M400 790.5h1M410 740.5h1M414 800.5h1M389 760.5h1M339 862.5h1M439 762.5h1M366 727.5h1M376 718.5h1M402 818.5h1M358 734.5h1M286 803.5h1M363 843.5h1M208 791.5h1M404 758.5h1M315 850.5h1M352 734.5h1M272 756.5h1M286 779.5h1M378 748.5h1M282 795.5h1M277 827.5h1M273 743.5h1M368 747.5h1M313 890.5h1M318 889.5h1M320 839.5h1M394 818.5h1M422 820.5h1M328 722.5h1M273 790.5h1M273 750.5h1M361 846.5h1M355 724.5h1M275 802.5h1M386 827.5h1M346 850.5h1M292 854.5h1M356 737.5h1M286 777.5h1M345 849.5h1M363 742.5h1M403 769.5h1M298 857.5h1M299 759.5h1M352 849.5h1M362 840.5h1M315 845.5h1M290 843.5h1M294 756.5h1M251 774.5h1M309 842.5h1M390 740.5h1M282 820.5h1M390 735.5h1M361 742.5h1M400 756.5h1M407 734.5h1M257 812.5h1M280 870.5h1M368 854.5h1M369 838.5h1M270 785.5h1M295 833.5h1M341 737.5h1M406 829.5h1M394 774.5h1M258 818.5h1M300 838.5h1M288 811.5h1M262 801.5h1M240 815.5h1M400 853.5h1M300 733.5h1M320 872.5h1M350 875.5h1M380 730.5h1M417 778.5h1M327 863.5h1M319 869.5h1M273 762.5h1M413 816.5h1M370 853.5h1M265 824.5h1M342 729.5h1M290 750.5h1M294 826.5h1M403 783.5h1M271 767.5h1M275 771.5h1M408 772.5h1M336 737.5h1M433 793.5h1M426 776.5h1M373 862.5h1M431 840.5h1M287 775.5h1M372 747.5h1M415 813.5h1M387 741.5h1M367 880.5h1M318 840.5h1M387 833.5h1M296 731.5h1M294 752.5h1M246 769.5h1M336 859.5h1M381 830.5h1M330 743.5h1M249 749.5h1M305 744.5h1M255 773.5h1M281 854.5h1M320 740.5h1M390 744.5h1M410 823.5h1M323 745.5h1M367 707.5h1M289 763.5h1M401 775.5h1M385 755.5h1M281 848.5h1M362 867.5h1M389 733.5h1M342 732.5h1M263 820.5h1M294 827.5h1M315 852.5h1M271 849.5h1M398 829.5h1M329 844.5h1M271 794.5h1M406 825.5h1M267 823.5h1M275 835.5h1M287 819.5h1M280 792.5h1M406 813.5h1M313 750.5h1M397 767.5h1M399 798.5h1M279 834.5h1M420 759.5h1M376 734.5h1M246 810.5h1M284 765.5h1M342 725.5h1M254 767.5h1M290 827.5h1M261 737.5h1M333 846.5h1M295 841.5h1M394 766.5h1M383 843.5h1M367 739.5h1M281 749.5h1M292 877.5h1M357 735.5h1M341 743.5h1M273 758.5h1M366 860.5h1M378 744.5h1M389 743.5h1M417 789.5h1M380 751.5h1M316 740.5h1M407 760.5h1M378 697.5h1M286 801.5h1M386 711.5h1M261 770.5h1M260 766.5h1M355 733.5h1M332 852.5h1M355 742.5h1M286 861.5h1M268 788.5h1M428 762.5h1M392 765.5h1M273 840.5h1M347 739.5h1M281 763.5h1M312 734.5h1M383 829.5h1M364 840.5h1M317 719.5h1M302 849.5h1M267 759.5h1M283 756.5h1M347 740.5h1M261 786.5h1M300 859.5h1M398 819.5h1M333 852.5h1M393 818.5h1M314 732.5h1M307 843.5h1M352 844.5h1M437 792.5h1M337 726.5h1M284 776.5h1M274 812.5h1M331 865.5h1M373 736.5h1M333 740.5h1M279 806.5h1M283 837.5h1M349 846.5h1M398 789.5h1M356 845.5h1M366 717.5h1M365 857.5h1M373 850.5h1M391 846.5h1M279 771.5h1M348 859.5h1M290 852.5h1M398 814.5h1M330 738.5h1M366 736.5h1M339 737.5h1M301 749.5h1M413 811.5h1M419 784.5h1M441 783.5h1M324 725.5h1M369 733.5h1M286 778.5h1M278 779.5h1M400 753.5h1M410 759.5h1M300 827.5h1M383 835.5h1M387 870.5h1M342 850.5h1M401 799.5h1M306 873.5h1M353 734.5h1M318 907.5h1M283 758.5h1M264 774.5h1M355 845.5h1M305 751.5h1M397 740.5h1M291 825.5h1M283 825.5h1M275 803.5h1M339 724.5h1M402 798.5h1M389 866.5h1M403 700.5h1M247 752.5h1M352 853.5h1M281 752.5h1M279 824.5h1M278 752.5h1M379 730.5h1M379 834.5h1M372 748.5h1M418 799.5h1M330 734.5h1M254 801.5h1M322 733.5h1M279 777.5h1M284 753.5h1M396 809.5h1M276 850.5h1M369 739.5h1M301 839.5h1M271 885.5h1M270 814.5h1M289 742.5h1M273 806.5h1M381 748.5h1M382 862.5h1M369 879.5h1M265 749.5h1M343 849.5h1M280 838.5h1M330 736.5h1M305 730.5h1M368 734.5h1M353 845.5h1M283 815.5h1M226 749.5h1M371 740.5h1M376 840.5h1M391 757.5h1M348 740.5h1M395 760.5h1M361 743.5h1M268 809.5h1M404 820.5h1M384 754.5h1M390 849.5h1M330 714.5h1M314 845.5h1M345 852.5h1M410 768.5h1M389 748.5h1M271 785.5h1M337 732.5h1M273 759.5h1M389 838.5h1M375 841.5h1M292 826.5h1M277 762.5h1M281 845.5h1M285 783.5h1M323 734.5h1M273 792.5h1M381 834.5h1M403 827.5h1M306 729.5h1M397 844.5h1M388 853.5h1M379 852.5h1M397 822.5h1M287 814.5h1M422 791.5h1M322 846.5h1M404 785.5h1M376 848.5h1M309 708.5h1M373 847.5h1M437 759.5h1M418 784.5h1M279 807.5h1M328 863.5h1M370 844.5h1M429 819.5h1M393 756.5h1M288 831.5h1M410 729.5h1M356 728.5h1M279 753.5h1M281 805.5h1M266 761.5h1M288 819.5h1M302 879.5h1M282 782.5h1M337 847.5h1M332 855.5h1M392 757.5h1M250 789.5h1M236 791.5h1M399 868.5h1M343 730.5h1M313 747.5h1M392 717.5h1M242 792.5h1M356 847.5h1M264 777.5h1M396 839.5h1M320 842.5h1M359 856.5h1M272 771.5h1M377 738.5h1M392 746.5h1M312 858.5h1M398 761.5h1M261 768.5h1M297 755.5h1M266 771.5h1M394 822.5h1M288 842.5h1M376 860.5h1M445 803.5h1M353 846.5h1M345 851.5h1M256 732.5h1M390 761.5h1M400 804.5h1M289 829.5h1M281 797.5h1M242 813.5h1M300 837.5h1M391 829.5h1M346 881.5h1M311 724.5h1M285 784.5h1M238 764.5h1M352 870.5h1M378 741.5h1M357 745.5h1M307 751.5h1M267 791.5h1M308 838.5h1M425 773.5h1M410 802.5h1M282 768.5h1M403 832.5h1M286 827.5h1M277 782.5h1M415 757.5h1M431 822.5h1M387 832.5h1M263 835.5h1M324 842.5h1M407 771.5h1M393 821.5h1M385 872.5h1M388 834.5h1M398 770.5h1M283 782.5h1M277 773.5h1M428 815.5h1M397 777.5h1M285 767.5h1M393 751.5h1M273 767.5h1M409 782.5h1M273 828.5h1M322 743.5h1M431 774.5h1M250 783.5h1M303 741.5h1M294 744.5h1M290 837.5h1M277 796.5h1M334 861.5h1M304 847.5h1M299 867.5h1M325 853.5h1M368 843.5h1M410 811.5h1M330 725.5h1M370 840.5h1M278 810.5h1M300 850.5h1M397 826.5h1M348 731.5h1M276 795.5h1M279 847.5h1M395 729.5h1M264 788.5h1M410 751.5h1M368 859.5h1M387 731.5h1M388 840.5h1M414 784.5h1M290 736.5h1M301 837.5h1M440 787.5h1M280 776.5h1M277 806.5h1M408 854.5h1M289 816.5h1M396 827.5h1M414 807.5h1M374 834.5h1M332 734.5h1M392 739.5h1M397 784.5h1M288 755.5h1M320 852.5h1M337 737.5h1M390 822.5h1M387 829.5h1M324 704.5h1M335 721.5h1M374 741.5h1M356 739.5h1M396 844.5h1M311 741.5h1M416 813.5h1M293 743.5h1M292 769.5h1M427 771.5h1M403 819.5h1M395 744.5h1M259 771.5h1M390 819.5h1M402 836.5h1M294 857.5h1M397 780.5h1M377 862.5h1M385 859.5h1M405 796.5h1M281 825.5h1M351 744.5h1M405 771.5h1M369 841.5h1M312 838.5h1M389 765.5h1M409 784.5h1M302 754.5h1M283 741.5h1M280 800.5h1M377 836.5h1M274 841.5h1M378 837.5h1M357 851.5h1M317 874.5h1M287 737.5h1M399 825.5h1M310 721.5h1M256 814.5h1M300 833.5h1M251 836.5h1M363 870.5h1M347 857.5h1M257 763.5h1M358 852.5h1M308 736.5h1M276 801.5h1M405 836.5h1M287 778.5h1M301 719.5h1M404 815.5h1M367 849.5h1M299 721.5h1M410 739.5h1M360 865.5h1M281 772.5h1M379 735.5h1M319 747.5h1M409 796.5h1M284 814.5h1M417 817.5h1M311 722.5h1M413 841.5h1M315 722.5h1M313 842.5h1M273 765.5h1M331 846.5h1M334 734.5h1M395 832.5h1M355 861.5h1M375 743.5h1M395 836.5h1M401 826.5h1M390 833.5h1M413 810.5h1M424 801.5h1M404 823.5h1M283 819.5h1M429 757.5h1M386 748.5h1M414 853.5h1M431 790.5h1M347 707.5h1M344 719.5h1M293 821.5h1M404 755.5h1M351 864.5h1M371 728.5h1M295 828.5h1M331 711.5h1M424 787.5h1M380 716.5h1M275 778.5h1M318 735.5h1M301 835.5h1M406 843.5h1M382 752.5h1M411 796.5h1M457 784.5h1M362 844.5h1M295 730.5h1M420 806.5h1M347 850.5h1M310 844.5h1M396 829.5h1M384 751.5h1M362 714.5h1M350 849.5h1M280 805.5h1M397 760.5h1M245 809.5h1M420 805.5h1M403 752.5h1M265 774.5h1M399 751.5h1M286 842.5h1M404 756.5h1M405 798.5h1M332 712.5h1M292 750.5h1M225 772.5h1M285 771.5h1M382 830.5h1M327 735.5h1M367 874.5h1M341 855.5h1M405 840.5h1M302 757.5h1M360 857.5h1M254 746.5h1M256 808.5h1M345 866.5h1M280 780.5h1M303 735.5h1M302 844.5h1M298 852.5h1M319 846.5h1M360 730.5h1M297 754.5h1M258 780.5h1M266 854.5h1M277 803.5h1M273 753.5h1M407 848.5h1M266 789.5h1M337 743.5h1M269 781.5h1M273 741.5h1M362 842.5h1M358 738.5h1M271 782.5h1M298 747.5h1M392 844.5h1M290 840.5h1M323 743.5h1M317 868.5h1M380 865.5h1M385 833.5h1M277 809.5h1M355 738.5h1M255 736.5h1M402 783.5h1M421 790.5h1M330 740.5h1M337 855.5h1M309 727.5h1M277 814.5h1M283 778.5h1M367 844.5h1M361 737.5h1M326 850.5h1M281 794.5h1M417 801.5h1M404 773.5h1M402 849.5h1M380 852.5h1M258 832.5h1M332 850.5h1M410 837.5h1M290 823.5h1M412 757.5h1M268 810.5h1M287 824.5h1M401 783.5h1M402 744.5h1M372 851.5h1M371 744.5h1M405 830.5h1M325 846.5h1M314 719.5h1M408 769.5h1M278 756.5h1M407 812.5h1M269 806.5h1M411 826.5h1M337 859.5h1M283 785.5h1M276 751.5h1M408 832.5h1M290 769.5h1M285 867.5h1M288 739.5h1M397 770.5h1M352 848.5h1M401 782.5h1M391 765.5h1M386 824.5h1M388 745.5h1M237 758.5h1M399 756.5h1M373 747.5h1M368 746.5h1M321 842.5h1M420 821.5h1M412 775.5h1M401 772.5h1M385 870.5h1M321 875.5h1M271 815.5h1M329 866.5h1M247 791.5h1M330 850.5h1M427 814.5h1M372 742.5h1M314 745.5h1M371 731.5h1M263 795.5h1M393 764.5h1M285 764.5h1M413 845.5h1M418 823.5h1M409 778.5h1M327 741.5h1M372 743.5h1M383 844.5h1M389 826.5h1M354 857.5h1M371 741.5h1M397 821.5h1M376 736.5h1M421 832.5h1M364 868.5h1M376 844.5h1M310 845.5h1M280 814.5h1M292 820.5h1M287 762.5h1M262 738.5h1M404 780.5h1M287 811.5h1M279 788.5h1M377 854.5h1M278 815.5h1M265 777.5h1M372 836.5h1M415 754.5h1M362 724.5h1M415 808.5h1M430 787.5h1M324 848.5h1M402 780.5h1M415 751.5h1M357 742.5h1M264 759.5h1M399 768.5h1M317 741.5h1M416 800.5h1M298 756.5h1M320 845.5h1M315 848.5h1M311 854.5h1M426 830.5h1M338 718.5h1M273 783.5h1M389 740.5h1M259 794.5h1M369 851.5h1M406 836.5h1M306 844.5h1M326 843.5h1M322 728.5h1M400 743.5h1M394 826.5h1M414 830.5h1M425 799.5h1M297 724.5h1M291 731.5h1M279 761.5h1M391 740.5h1M347 851.5h1M260 767.5h1M324 856.5h1M381 855.5h1M400 727.5h1M422 846.5h1M265 860.5h1M398 768.5h1M328 856.5h1M427 821.5h1M289 752.5h1M415 785.5h1M398 748.5h1M353 729.5h1M399 784.5h1M422 801.5h1M368 739.5h1M361 845.5h1M399 855.5h1M284 721.5h1M382 732.5h1M378 832.5h1M283 834.5h1M320 869.5h1M424 781.5h1M366 851.5h1M282 821.5h1M427 858.5h1M403 806.5h1M439 794.5h1M307 837.5h1M412 763.5h1M408 774.5h1M264 790.5h1M360 853.5h1M400 774.5h1M334 862.5h1M330 741.5h1M379 835.5h1M349 721.5h1M271 836.5h1M357 850.5h1M370 741.5h1M254 761.5h1M350 857.5h1M413 778.5h1M397 769.5h1M410 773.5h1M271 783.5h1M269 755.5h1M363 867.5h1M318 741.5h1M342 860.5h1M390 827.5h1M351 845.5h1M310 736.5h1M416 790.5h1M398 808.5h1M278 835.5h1M268 783.5h1M267 817.5h1M402 767.5h1M365 860.5h1M274 819.5h1M321 864.5h1M286 761.5h1M394 853.5h1M266 793.5h1M274 826.5h1M376 875.5h1M283 797.5h1M395 814.5h1M399 796.5h1M294 858.5h1M324 735.5h1M427 787.5h1M406 804.5h1M281 800.5h1M292 821.5h1M261 800.5h1M411 790.5h1M420 755.5h1M274 827.5h1M272 767.5h1M373 735.5h1M260 799.5h1M258 820.5h1M298 836.5h1M337 742.5h1M279 783.5h1M347 856.5h1M356 730.5h1M307 840.5h1M329 729.5h1M278 828.5h1M287 813.5h1M280 721.5h1M367 709.5h1M288 856.5h1M335 709.5h1M328 847.5h1M396 767.5h1M359 874.5h1M388 837.5h1M403 761.5h1M284 764.5h1M290 820.5h1M292 863.5h1M422 799.5h1M325 850.5h1M405 801.5h1M403 809.5h1M358 853.5h1M344 854.5h1M326 870.5h1M319 734.5h1M356 849.5h1M273 756.5h1M320 856.5h1M329 845.5h1M371 842.5h1M403 786.5h1M309 746.5h1M392 761.5h1M419 768.5h1M407 778.5h1M309 847.5h1M382 742.5h1M441 745.5h1M419 827.5h1M346 739.5h1M401 794.5h1M391 837.5h1M311 734.5h1M325 843.5h1M413 808.5h1M292 733.5h1M278 784.5h1M433 809.5h1M405 791.5h1M289 766.5h1M395 843.5h1M403 760.5h1M414 796.5h1M270 766.5h1M413 787.5h1M444 786.5h1M330 856.5h1M353 744.5h1M334 856.5h1M276 797.5h1M336 861.5h1M289 755.5h1M324 733.5h1M406 819.5h1M385 830.5h1M295 760.5h1M295 759.5h1M386 844.5h1M415 799.5h1M259 790.5h1M412 786.5h1M377 728.5h1M314 867.5h1M276 819.5h1M280 844.5h1M294 751.5h1M272 794.5h1M243 840.5h1" stroke="#000" stroke-width="1"/>
<rect x="189.5" y="636.5" width="319" height="299" fill="none" stroke="#000" stroke-width="1"/>
<path d="M191.5 935v-4M198.5 935v-4M204.5 935v-4M211.5 935v-9M217.5 935v-4M224.5 935v-4M230.5 935v-4M237.5 935v-4M244.5 935v-9M250.5 935v-4M257.5 935v-4M263.5 935v-4M270.5 935v-4M276.5 935v-9M283.5 935v-4M289.5 935v-4M296.5 935v-4M302.5 935v-4M309.5 935v-9M315.5 935v-4M322.5 935v-4M328.5 935v-4M335.5 935v-4M341.5 935v-9M348.5 935v-4M354.5 935v-4M361.5 935v-4M368.5 935v-4M374.5 935v-9M381.5 935v-4M387.5 935v-4M394.5 935v-4M400.5 935v-4M407.5 935v-9M413.5 935v-4M420.5 935v-4M426.5 935v-4M433.5 935v-4M439.5 935v-9M446.5 935v-4M452.5 935v-4M459.5 935v-4M465.5 935v-4M472.5 935v-9M478.5 935v-4M485.5 935v-4M491.5 935v-4M498.5 935v-4M505.5 935v-9M189 923.5h5M189 909.5h10M189 894.5h5M189 880.5h5M189 865.5h5M189 851.5h10M189 836.5h5M189 822.5h5M189 808.5h5M189 793.5h10M189 779.5h5M189 764.5h5M189 750.5h5M189 735.5h10M189 721.5h5M189 706.5h5M189 692.5h5M189 678.5h10M189 663.5h5M189 649.5h5" stroke="#000" stroke-width="1" fill="none"/>
<g font-family="Liberation Sans" fill="#000"><text transform="translate(210.38 947.00) scale(0.89 1)" font-size="12.3" text-anchor="middle">&#8722;4</text><text transform="translate(243.01 947.00) scale(0.89 1)" font-size="12.3" text-anchor="middle">&#8722;3</text><text transform="translate(275.64 947.00) scale(0.89 1)" font-size="12.3" text-anchor="middle">&#8722;2</text><text transform="translate(308.27 947.00) scale(0.89 1)" font-size="12.3" text-anchor="middle">&#8722;1</text><text transform="translate(340.90 947.00) scale(0.89 1)" font-size="12.3" text-anchor="middle">0</text><text transform="translate(373.53 947.00) scale(0.89 1)" font-size="12.3" text-anchor="middle">1</text><text transform="translate(406.16 947.00) scale(0.89 1)" font-size="12.3" text-anchor="middle">2</text><text transform="translate(438.79 947.00) scale(0.89 1)" font-size="12.3" text-anchor="middle">3</text><text transform="translate(471.42 947.00) scale(0.89 1)" font-size="12.3" text-anchor="middle">4</text><text transform="translate(504.05 947.00) scale(0.89 1)" font-size="12.3" text-anchor="middle">5</text><text transform="translate(186.60 914.00) scale(0.89 1)" font-size="12.3" text-anchor="end">&#8722;4</text><text transform="translate(186.60 856.00) scale(0.89 1)" font-size="12.3" text-anchor="end">&#8722;2</text><text transform="translate(186.60 798.00) scale(0.89 1)" font-size="12.3" text-anchor="end">0</text><text transform="translate(186.60 740.00) scale(0.89 1)" font-size="12.3" text-anchor="end">2</text><text transform="translate(186.60 683.00) scale(0.89 1)" font-size="12.3" text-anchor="end">4</text><text transform="translate(507.20 959.00) scale(0.87 1)" font-size="13" text-anchor="end">py</text><text transform="translate(165.5 636.8) rotate(-90) scale(0.87 1)" font-size="13" text-anchor="end">px</text></g>
</svg>
</body></html>
